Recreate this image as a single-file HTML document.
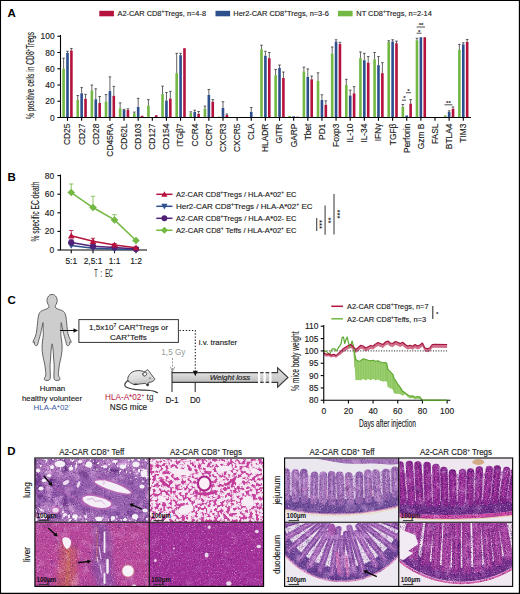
<!DOCTYPE html>
<html><head><meta charset="utf-8"><title>Figure</title>
<style>
html,body{margin:0;padding:0;background:#fff;}
svg{display:block;font-family:"Liberation Sans", sans-serif;}
text[fill="#1a1a1a"]{stroke:#1a1a1a;stroke-width:0.14px;}
</style></head><body>
<svg width="520" height="594" viewBox="0 0 520 594">
<rect x="0" y="0" width="520" height="594" fill="#fff"/>
<g id="panelA">
<text x="7.5" y="17.3" font-size="11.5" font-weight="bold" fill="#000">A</text>
<rect x="99.3" y="10.8" width="14.6" height="5.5" fill="#b5123e"/>
<text x="117.5" y="16.2" font-size="7.7" fill="#1a1a1a" textLength="88.5" lengthAdjust="spacingAndGlyphs">A2-CAR CD8<tspan font-size="5" dy="-3">+</tspan><tspan dy="3">Tregs, n=4-8</tspan></text>
<rect x="215.5" y="10.8" width="14.6" height="5.5" fill="#2d4f8e"/>
<text x="233.3" y="16.2" font-size="7.7" fill="#1a1a1a" textLength="95.5" lengthAdjust="spacingAndGlyphs">Her2-CAR CD8<tspan font-size="5" dy="-3">+</tspan><tspan dy="3">Tregs, n=3-6</tspan></text>
<rect x="338" y="10.8" width="14.6" height="5.5" fill="#72b843"/>
<text x="356.3" y="16.2" font-size="7.7" fill="#1a1a1a" textLength="75.5" lengthAdjust="spacingAndGlyphs">NT CD8<tspan font-size="5" dy="-3">+</tspan><tspan dy="3">Tregs, n=2-14</tspan></text>
<rect x="62.30" y="68.75" width="2.6" height="48.75" fill="#72b843"/>
<path d="M63.60 68.75V58.19M62.30 58.19h2.6" stroke="#222" stroke-width="0.7" fill="none"/>
<rect x="66.20" y="52.91" width="2.6" height="64.59" fill="#2d4f8e"/>
<path d="M67.50 52.91V51.28M66.20 51.28h2.6" stroke="#222" stroke-width="0.7" fill="none"/>
<rect x="70.10" y="50.47" width="2.6" height="67.03" fill="#b5123e"/>
<path d="M71.40 50.47V48.44M70.10 48.44h2.6" stroke="#222" stroke-width="0.7" fill="none"/>
<path d="M67.50 117.5v3.3" stroke="#000" stroke-width="1.1"/>
<text transform="translate(70.40 123.6) rotate(-90)" text-anchor="end" font-size="8.4" fill="#1a1a1a">CD25</text>
<rect x="76.44" y="100.03" width="2.6" height="17.47" fill="#72b843"/>
<path d="M77.73 100.03V95.56M76.44 95.56h2.6" stroke="#222" stroke-width="0.7" fill="none"/>
<rect x="80.34" y="93.29" width="2.6" height="24.21" fill="#2d4f8e"/>
<path d="M81.64 93.29V87.60M80.34 87.60h2.6" stroke="#222" stroke-width="0.7" fill="none"/>
<rect x="84.24" y="98.81" width="2.6" height="18.69" fill="#b5123e"/>
<path d="M85.54 98.81V94.34M84.24 94.34h2.6" stroke="#222" stroke-width="0.7" fill="none"/>
<path d="M81.64 117.5v3.3" stroke="#000" stroke-width="1.1"/>
<text transform="translate(84.54 123.6) rotate(-90)" text-anchor="end" font-size="8.4" fill="#1a1a1a">CD27</text>
<rect x="90.57" y="90.36" width="2.6" height="27.14" fill="#72b843"/>
<path d="M91.87 90.36V85.00M90.57 85.00h2.6" stroke="#222" stroke-width="0.7" fill="none"/>
<rect x="94.47" y="99.30" width="2.6" height="18.20" fill="#2d4f8e"/>
<path d="M95.77 99.30V88.82M94.47 88.82h2.6" stroke="#222" stroke-width="0.7" fill="none"/>
<rect x="98.37" y="103.04" width="2.6" height="14.46" fill="#b5123e"/>
<path d="M99.67 103.04V96.54M98.37 96.54h2.6" stroke="#222" stroke-width="0.7" fill="none"/>
<path d="M95.77 117.5v3.3" stroke="#000" stroke-width="1.1"/>
<text transform="translate(98.67 123.6) rotate(-90)" text-anchor="end" font-size="8.4" fill="#1a1a1a">CD28</text>
<rect x="104.70" y="101.58" width="2.6" height="15.93" fill="#72b843"/>
<path d="M106.00 101.58V94.59M104.70 94.59h2.6" stroke="#222" stroke-width="0.7" fill="none"/>
<rect x="108.61" y="91.09" width="2.6" height="26.41" fill="#2d4f8e"/>
<path d="M109.91 91.09V76.88M108.61 76.88h2.6" stroke="#222" stroke-width="0.7" fill="none"/>
<rect x="112.51" y="95.81" width="2.6" height="21.69" fill="#b5123e"/>
<path d="M113.81 95.81V86.38M112.51 86.38h2.6" stroke="#222" stroke-width="0.7" fill="none"/>
<path d="M109.91 117.5v3.3" stroke="#000" stroke-width="1.1"/>
<text transform="translate(112.81 123.6) rotate(-90)" text-anchor="end" font-size="8.4" fill="#1a1a1a">CD45RA</text>
<rect x="118.84" y="108.32" width="2.6" height="9.18" fill="#72b843"/>
<path d="M120.14 108.32V102.88M118.84 102.88h2.6" stroke="#222" stroke-width="0.7" fill="none"/>
<rect x="122.74" y="110.03" width="2.6" height="7.47" fill="#2d4f8e"/>
<path d="M124.04 110.03V109.38M122.74 109.38h2.6" stroke="#222" stroke-width="0.7" fill="none"/>
<rect x="126.64" y="110.03" width="2.6" height="7.47" fill="#b5123e"/>
<path d="M127.94 110.03V108.81M126.64 108.81h2.6" stroke="#222" stroke-width="0.7" fill="none"/>
<path d="M124.04 117.5v3.3" stroke="#000" stroke-width="1.1"/>
<text transform="translate(126.94 123.6) rotate(-90)" text-anchor="end" font-size="8.4" fill="#1a1a1a">CD62L</text>
<rect x="132.97" y="113.28" width="2.6" height="4.23" fill="#72b843"/>
<path d="M134.28 113.28V112.06M132.97 112.06h2.6" stroke="#222" stroke-width="0.7" fill="none"/>
<rect x="136.88" y="107.02" width="2.6" height="10.48" fill="#2d4f8e"/>
<path d="M138.18 107.02V98.33M136.88 98.33h2.6" stroke="#222" stroke-width="0.7" fill="none"/>
<rect x="140.78" y="115.79" width="2.6" height="1.71" fill="#b5123e"/>
<path d="M138.18 117.5v3.3" stroke="#000" stroke-width="1.1"/>
<text transform="translate(141.08 123.6) rotate(-90)" text-anchor="end" font-size="8.4" fill="#1a1a1a">CD103</text>
<rect x="147.11" y="105.56" width="2.6" height="11.94" fill="#72b843"/>
<path d="M148.41 105.56V99.62M147.11 99.62h2.6" stroke="#222" stroke-width="0.7" fill="none"/>
<rect x="154.91" y="115.22" width="2.6" height="2.27" fill="#b5123e"/>
<path d="M152.31 117.5v3.3" stroke="#000" stroke-width="1.1"/>
<text transform="translate(155.21 123.6) rotate(-90)" text-anchor="end" font-size="8.4" fill="#1a1a1a">CD127</text>
<rect x="161.24" y="94.10" width="2.6" height="23.40" fill="#72b843"/>
<path d="M162.54 94.10V86.14M161.24 86.14h2.6" stroke="#222" stroke-width="0.7" fill="none"/>
<rect x="165.14" y="100.52" width="2.6" height="16.98" fill="#2d4f8e"/>
<path d="M166.44 100.52V92.56M165.14 92.56h2.6" stroke="#222" stroke-width="0.7" fill="none"/>
<rect x="169.04" y="98.57" width="2.6" height="18.93" fill="#b5123e"/>
<path d="M170.34 98.57V91.34M169.04 91.34h2.6" stroke="#222" stroke-width="0.7" fill="none"/>
<path d="M166.44 117.5v3.3" stroke="#000" stroke-width="1.1"/>
<text transform="translate(169.34 123.6) rotate(-90)" text-anchor="end" font-size="8.4" fill="#1a1a1a">CD154</text>
<rect x="175.38" y="73.14" width="2.6" height="44.36" fill="#72b843"/>
<path d="M176.68 73.14V53.31M175.38 53.31h2.6" stroke="#222" stroke-width="0.7" fill="none"/>
<rect x="179.28" y="55.18" width="2.6" height="62.32" fill="#2d4f8e"/>
<path d="M180.58 55.18V53.31M179.28 53.31h2.6" stroke="#222" stroke-width="0.7" fill="none"/>
<rect x="183.18" y="48.19" width="2.6" height="69.31" fill="#b5123e"/>
<path d="M180.58 117.5v3.3" stroke="#000" stroke-width="1.1"/>
<text transform="translate(183.48 123.6) rotate(-90)" text-anchor="end" font-size="8.4" fill="#1a1a1a">ITGβ7</text>
<rect x="189.51" y="113.03" width="2.6" height="4.47" fill="#72b843"/>
<path d="M190.81 113.03V111.81M189.51 111.81h2.6" stroke="#222" stroke-width="0.7" fill="none"/>
<rect x="193.41" y="111.97" width="2.6" height="5.52" fill="#2d4f8e"/>
<path d="M194.72 111.97V110.19M193.41 110.19h2.6" stroke="#222" stroke-width="0.7" fill="none"/>
<rect x="197.31" y="113.76" width="2.6" height="3.74" fill="#b5123e"/>
<path d="M198.62 113.76V111.49M197.31 111.49h2.6" stroke="#222" stroke-width="0.7" fill="none"/>
<path d="M194.72 117.5v3.3" stroke="#000" stroke-width="1.1"/>
<text transform="translate(197.62 123.6) rotate(-90)" text-anchor="end" font-size="8.4" fill="#1a1a1a">CCR4</text>
<rect x="203.65" y="108.56" width="2.6" height="8.94" fill="#72b843"/>
<path d="M204.95 108.56V106.12M203.65 106.12h2.6" stroke="#222" stroke-width="0.7" fill="none"/>
<rect x="207.55" y="94.99" width="2.6" height="22.51" fill="#2d4f8e"/>
<path d="M208.85 94.99V89.47M207.55 89.47h2.6" stroke="#222" stroke-width="0.7" fill="none"/>
<rect x="211.45" y="101.74" width="2.6" height="15.76" fill="#b5123e"/>
<path d="M212.75 101.74V99.62M211.45 99.62h2.6" stroke="#222" stroke-width="0.7" fill="none"/>
<path d="M208.85 117.5v3.3" stroke="#000" stroke-width="1.1"/>
<text transform="translate(211.75 123.6) rotate(-90)" text-anchor="end" font-size="8.4" fill="#1a1a1a">CCR7</text>
<rect x="217.78" y="116.69" width="2.6" height="0.81" fill="#72b843"/>
<rect x="221.68" y="107.99" width="2.6" height="9.51" fill="#2d4f8e"/>
<path d="M222.98 107.99V101.74M221.68 101.74h2.6" stroke="#222" stroke-width="0.7" fill="none"/>
<rect x="225.58" y="115.06" width="2.6" height="2.44" fill="#b5123e"/>
<path d="M226.88 115.06V114.01M225.58 114.01h2.6" stroke="#222" stroke-width="0.7" fill="none"/>
<path d="M222.98 117.5v3.3" stroke="#000" stroke-width="1.1"/>
<text transform="translate(225.88 123.6) rotate(-90)" text-anchor="end" font-size="8.4" fill="#1a1a1a">CXCR3</text>
<rect x="231.92" y="117.26" width="2.6" height="0.24" fill="#72b843"/>
<rect x="235.82" y="117.01" width="2.6" height="0.49" fill="#2d4f8e"/>
<rect x="239.72" y="117.01" width="2.6" height="0.49" fill="#b5123e"/>
<path d="M237.12 117.5v3.3" stroke="#000" stroke-width="1.1"/>
<text transform="translate(240.02 123.6) rotate(-90)" text-anchor="end" font-size="8.4" fill="#1a1a1a">CXCR5</text>
<rect x="246.05" y="117.26" width="2.6" height="0.24" fill="#72b843"/>
<rect x="249.95" y="111.97" width="2.6" height="5.52" fill="#2d4f8e"/>
<path d="M251.25 111.97V107.51M249.95 107.51h2.6" stroke="#222" stroke-width="0.7" fill="none"/>
<rect x="253.85" y="116.93" width="2.6" height="0.57" fill="#b5123e"/>
<path d="M251.25 117.5v3.3" stroke="#000" stroke-width="1.1"/>
<text transform="translate(254.16 123.6) rotate(-90)" text-anchor="end" font-size="8.4" fill="#1a1a1a">CLA</text>
<rect x="260.19" y="49.25" width="2.6" height="68.25" fill="#72b843"/>
<path d="M261.49 49.25V45.19M260.19 45.19h2.6" stroke="#222" stroke-width="0.7" fill="none"/>
<rect x="264.09" y="55.75" width="2.6" height="61.75" fill="#2d4f8e"/>
<path d="M265.39 55.75V51.28M264.09 51.28h2.6" stroke="#222" stroke-width="0.7" fill="none"/>
<rect x="267.99" y="58.19" width="2.6" height="59.31" fill="#b5123e"/>
<path d="M269.29 58.19V52.50M267.99 52.50h2.6" stroke="#222" stroke-width="0.7" fill="none"/>
<path d="M265.39 117.5v3.3" stroke="#000" stroke-width="1.1"/>
<text transform="translate(268.29 123.6) rotate(-90)" text-anchor="end" font-size="8.4" fill="#1a1a1a">HLADR</text>
<rect x="274.32" y="75.25" width="2.6" height="42.25" fill="#72b843"/>
<path d="M275.62 75.25V69.56M274.32 69.56h2.6" stroke="#222" stroke-width="0.7" fill="none"/>
<rect x="278.22" y="67.94" width="2.6" height="49.56" fill="#2d4f8e"/>
<path d="M279.52 67.94V65.01M278.22 65.01h2.6" stroke="#222" stroke-width="0.7" fill="none"/>
<rect x="282.12" y="78.01" width="2.6" height="39.49" fill="#b5123e"/>
<path d="M283.42 78.01V72.00M282.12 72.00h2.6" stroke="#222" stroke-width="0.7" fill="none"/>
<path d="M279.52 117.5v3.3" stroke="#000" stroke-width="1.1"/>
<text transform="translate(282.42 123.6) rotate(-90)" text-anchor="end" font-size="8.4" fill="#1a1a1a">GITR</text>
<rect x="288.46" y="115.88" width="2.6" height="1.62" fill="#72b843"/>
<rect x="292.36" y="116.28" width="2.6" height="1.22" fill="#2d4f8e"/>
<rect x="296.26" y="116.69" width="2.6" height="0.81" fill="#b5123e"/>
<path d="M293.66 117.5v3.3" stroke="#000" stroke-width="1.1"/>
<text transform="translate(296.56 123.6) rotate(-90)" text-anchor="end" font-size="8.4" fill="#1a1a1a">GARP</text>
<rect x="302.59" y="71.43" width="2.6" height="46.07" fill="#72b843"/>
<path d="M303.89 71.43V67.12M302.59 67.12h2.6" stroke="#222" stroke-width="0.7" fill="none"/>
<rect x="306.49" y="76.88" width="2.6" height="40.62" fill="#2d4f8e"/>
<path d="M307.79 76.88V68.91M306.49 68.91h2.6" stroke="#222" stroke-width="0.7" fill="none"/>
<rect x="310.39" y="79.31" width="2.6" height="38.19" fill="#b5123e"/>
<path d="M311.69 79.31V76.06M310.39 76.06h2.6" stroke="#222" stroke-width="0.7" fill="none"/>
<path d="M307.79 117.5v3.3" stroke="#000" stroke-width="1.1"/>
<text transform="translate(310.69 123.6) rotate(-90)" text-anchor="end" font-size="8.4" fill="#1a1a1a">Tbet</text>
<rect x="316.73" y="80.94" width="2.6" height="36.56" fill="#72b843"/>
<path d="M318.03 80.94V72.81M316.73 72.81h2.6" stroke="#222" stroke-width="0.7" fill="none"/>
<rect x="320.63" y="100.03" width="2.6" height="17.47" fill="#2d4f8e"/>
<path d="M321.93 100.03V94.75M320.63 94.75h2.6" stroke="#222" stroke-width="0.7" fill="none"/>
<rect x="324.53" y="104.83" width="2.6" height="12.67" fill="#b5123e"/>
<path d="M325.83 104.83V100.84M324.53 100.84h2.6" stroke="#222" stroke-width="0.7" fill="none"/>
<path d="M321.93 117.5v3.3" stroke="#000" stroke-width="1.1"/>
<text transform="translate(324.83 123.6) rotate(-90)" text-anchor="end" font-size="8.4" fill="#1a1a1a">PD1</text>
<rect x="330.87" y="53.48" width="2.6" height="64.02" fill="#72b843"/>
<path d="M332.17 53.48V46.98M330.87 46.98h2.6" stroke="#222" stroke-width="0.7" fill="none"/>
<rect x="334.76" y="41.53" width="2.6" height="75.97" fill="#2d4f8e"/>
<path d="M336.06 41.53V39.74M334.76 39.74h2.6" stroke="#222" stroke-width="0.7" fill="none"/>
<rect x="338.66" y="43.97" width="2.6" height="73.53" fill="#b5123e"/>
<path d="M339.96 43.97V42.26M338.66 42.26h2.6" stroke="#222" stroke-width="0.7" fill="none"/>
<path d="M336.06 117.5v3.3" stroke="#000" stroke-width="1.1"/>
<text transform="translate(338.96 123.6) rotate(-90)" text-anchor="end" font-size="8.4" fill="#1a1a1a">Foxp3</text>
<rect x="345.00" y="85.00" width="2.6" height="32.50" fill="#72b843"/>
<path d="M346.30 85.00V79.31M345.00 79.31h2.6" stroke="#222" stroke-width="0.7" fill="none"/>
<rect x="348.90" y="95.56" width="2.6" height="21.94" fill="#2d4f8e"/>
<path d="M350.20 95.56V90.12M348.90 90.12h2.6" stroke="#222" stroke-width="0.7" fill="none"/>
<rect x="352.80" y="93.37" width="2.6" height="24.13" fill="#b5123e"/>
<path d="M354.10 93.37V86.62M352.80 86.62h2.6" stroke="#222" stroke-width="0.7" fill="none"/>
<path d="M350.20 117.5v3.3" stroke="#000" stroke-width="1.1"/>
<text transform="translate(353.10 123.6) rotate(-90)" text-anchor="end" font-size="8.4" fill="#1a1a1a">IL-10</text>
<rect x="359.13" y="58.19" width="2.6" height="59.31" fill="#72b843"/>
<path d="M360.44 58.19V51.93M359.13 51.93h2.6" stroke="#222" stroke-width="0.7" fill="none"/>
<rect x="363.03" y="60.22" width="2.6" height="57.28" fill="#2d4f8e"/>
<path d="M364.33 60.22V53.31M363.03 53.31h2.6" stroke="#222" stroke-width="0.7" fill="none"/>
<rect x="366.93" y="62.66" width="2.6" height="54.84" fill="#b5123e"/>
<path d="M368.23 62.66V56.56M366.93 56.56h2.6" stroke="#222" stroke-width="0.7" fill="none"/>
<path d="M364.33 117.5v3.3" stroke="#000" stroke-width="1.1"/>
<text transform="translate(367.23 123.6) rotate(-90)" text-anchor="end" font-size="8.4" fill="#1a1a1a">IL-34</text>
<rect x="373.27" y="59.41" width="2.6" height="58.09" fill="#72b843"/>
<path d="M374.57 59.41V52.50M373.27 52.50h2.6" stroke="#222" stroke-width="0.7" fill="none"/>
<rect x="377.17" y="65.17" width="2.6" height="52.33" fill="#2d4f8e"/>
<path d="M378.47 65.17V56.56M377.17 56.56h2.6" stroke="#222" stroke-width="0.7" fill="none"/>
<rect x="381.07" y="73.14" width="2.6" height="44.36" fill="#b5123e"/>
<path d="M382.37 73.14V62.66M381.07 62.66h2.6" stroke="#222" stroke-width="0.7" fill="none"/>
<path d="M378.47 117.5v3.3" stroke="#000" stroke-width="1.1"/>
<text transform="translate(381.37 123.6) rotate(-90)" text-anchor="end" font-size="8.4" fill="#1a1a1a">IFNγ</text>
<rect x="387.41" y="41.94" width="2.6" height="75.56" fill="#72b843"/>
<path d="M388.71 41.94V40.72M387.41 40.72h2.6" stroke="#222" stroke-width="0.7" fill="none"/>
<rect x="391.31" y="41.53" width="2.6" height="75.97" fill="#2d4f8e"/>
<path d="M392.61 41.53V39.74M391.31 39.74h2.6" stroke="#222" stroke-width="0.7" fill="none"/>
<rect x="395.20" y="43.24" width="2.6" height="74.26" fill="#b5123e"/>
<path d="M396.50 43.24V41.12M395.20 41.12h2.6" stroke="#222" stroke-width="0.7" fill="none"/>
<path d="M392.61 117.5v3.3" stroke="#000" stroke-width="1.1"/>
<text transform="translate(395.50 123.6) rotate(-90)" text-anchor="end" font-size="8.4" fill="#1a1a1a">TGFβ</text>
<rect x="401.54" y="106.94" width="2.6" height="10.56" fill="#72b843"/>
<path d="M402.84 106.94V104.50M401.54 104.50h2.6" stroke="#222" stroke-width="0.7" fill="none"/>
<rect x="405.44" y="115.47" width="2.6" height="2.03" fill="#2d4f8e"/>
<rect x="409.34" y="103.69" width="2.6" height="13.81" fill="#b5123e"/>
<path d="M410.64 103.69V99.62M409.34 99.62h2.6" stroke="#222" stroke-width="0.7" fill="none"/>
<path d="M406.74 117.5v3.3" stroke="#000" stroke-width="1.1"/>
<text transform="translate(409.64 123.6) rotate(-90)" text-anchor="end" font-size="8.4" fill="#1a1a1a">Perforin</text>
<rect x="415.68" y="40.31" width="2.6" height="77.19" fill="#72b843"/>
<path d="M416.98 40.31V38.28M415.68 38.28h2.6" stroke="#222" stroke-width="0.7" fill="none"/>
<rect x="419.57" y="37.23" width="2.6" height="80.27" fill="#2d4f8e"/>
<rect x="423.47" y="37.23" width="2.6" height="80.27" fill="#b5123e"/>
<path d="M420.88 117.5v3.3" stroke="#000" stroke-width="1.1"/>
<text transform="translate(423.77 123.6) rotate(-90)" text-anchor="end" font-size="8.4" fill="#1a1a1a">Gzm B</text>
<rect x="429.81" y="117.09" width="2.6" height="0.41" fill="#72b843"/>
<rect x="433.71" y="117.09" width="2.6" height="0.41" fill="#2d4f8e"/>
<rect x="437.61" y="117.09" width="2.6" height="0.41" fill="#b5123e"/>
<path d="M435.01 117.5v3.3" stroke="#000" stroke-width="1.1"/>
<text transform="translate(437.91 123.6) rotate(-90)" text-anchor="end" font-size="8.4" fill="#1a1a1a">FASL</text>
<rect x="443.94" y="115.47" width="2.6" height="2.03" fill="#72b843"/>
<rect x="447.84" y="112.06" width="2.6" height="5.44" fill="#2d4f8e"/>
<path d="M449.14 112.06V110.84M447.84 110.84h2.6" stroke="#222" stroke-width="0.7" fill="none"/>
<rect x="451.74" y="108.81" width="2.6" height="8.69" fill="#b5123e"/>
<path d="M453.04 108.81V106.94M451.74 106.94h2.6" stroke="#222" stroke-width="0.7" fill="none"/>
<path d="M449.14 117.5v3.3" stroke="#000" stroke-width="1.1"/>
<text transform="translate(452.04 123.6) rotate(-90)" text-anchor="end" font-size="8.4" fill="#1a1a1a">BTLA4</text>
<rect x="458.08" y="49.74" width="2.6" height="67.76" fill="#72b843"/>
<path d="M459.38 49.74V44.38M458.08 44.38h2.6" stroke="#222" stroke-width="0.7" fill="none"/>
<rect x="461.98" y="44.38" width="2.6" height="73.12" fill="#2d4f8e"/>
<path d="M463.28 44.38V42.75M461.98 42.75h2.6" stroke="#222" stroke-width="0.7" fill="none"/>
<rect x="465.88" y="41.94" width="2.6" height="75.56" fill="#b5123e"/>
<path d="M467.18 41.94V39.50M465.88 39.50h2.6" stroke="#222" stroke-width="0.7" fill="none"/>
<path d="M463.28 117.5v3.3" stroke="#000" stroke-width="1.1"/>
<text transform="translate(466.18 123.6) rotate(-90)" text-anchor="end" font-size="8.4" fill="#1a1a1a">TIM3</text>
<path d="M60.5 35V117.5H471" stroke="#000" stroke-width="1.1" fill="none"/>
<path d="M57.4 117.50h3.1" stroke="#000" stroke-width="1.1"/>
<text x="54.6" y="120.50" text-anchor="end" font-size="8.4" fill="#1a1a1a">0</text>
<path d="M57.4 101.25h3.1" stroke="#000" stroke-width="1.1"/>
<text x="54.6" y="104.25" text-anchor="end" font-size="8.4" fill="#1a1a1a">20</text>
<path d="M57.4 85.00h3.1" stroke="#000" stroke-width="1.1"/>
<text x="54.6" y="88.00" text-anchor="end" font-size="8.4" fill="#1a1a1a">40</text>
<path d="M57.4 68.75h3.1" stroke="#000" stroke-width="1.1"/>
<text x="54.6" y="71.75" text-anchor="end" font-size="8.4" fill="#1a1a1a">60</text>
<path d="M57.4 52.50h3.1" stroke="#000" stroke-width="1.1"/>
<text x="54.6" y="55.50" text-anchor="end" font-size="8.4" fill="#1a1a1a">80</text>
<path d="M57.4 36.25h3.1" stroke="#000" stroke-width="1.1"/>
<text x="54.6" y="39.25" text-anchor="end" font-size="8.4" fill="#1a1a1a">100</text>
<text transform="translate(33.6 75.5) rotate(-90)" text-anchor="middle" font-size="10.4" fill="#1a1a1a" stroke="#1a1a1a" stroke-width="0.2" textLength="87" lengthAdjust="spacingAndGlyphs">% positive cells in CD8<tspan font-size="7" dy="-2.5">+</tspan><tspan dy="2.5">Tregs</tspan></text>
<path d="M402 100.2H406" stroke="#222" stroke-width="0.8"/>
<text x="404.4" y="99.89999999999999" text-anchor="middle" font-size="6.2" font-weight="bold" fill="#222">*</text>
<path d="M406 92.7H411" stroke="#222" stroke-width="0.8"/>
<text x="408.4" y="92.8" text-anchor="middle" font-size="6.2" font-weight="bold" fill="#222">*</text>
<path d="M416.7 33.2H421.5" stroke="#222" stroke-width="0.8"/>
<text x="419.2" y="33.6" text-anchor="middle" font-size="6.2" font-weight="bold" fill="#222">*</text>
<path d="M416.7 27H425" stroke="#222" stroke-width="0.8"/>
<text x="421.1" y="26.6" text-anchor="middle" font-size="6.2" font-weight="bold" fill="#222">**</text>
<path d="M444.5 104.8H452.4" stroke="#222" stroke-width="0.8"/>
<text x="448.4" y="104.6" text-anchor="middle" font-size="6.2" font-weight="bold" fill="#222">**</text>
</g>
<g id="panelB">
<text x="7.5" y="181.3" font-size="11.5" font-weight="bold" fill="#000">B</text>
<path d="M60.5 174.5V250.0H147" stroke="#000" stroke-width="1.1" fill="none"/>
<path d="M57.4 250.00h3.1" stroke="#000" stroke-width="1.1"/>
<text x="54.2" y="253.00" text-anchor="end" font-size="8.4" fill="#1a1a1a">0</text>
<path d="M57.4 231.40h3.1" stroke="#000" stroke-width="1.1"/>
<text x="54.2" y="234.40" text-anchor="end" font-size="8.4" fill="#1a1a1a">20</text>
<path d="M57.4 212.80h3.1" stroke="#000" stroke-width="1.1"/>
<text x="54.2" y="215.80" text-anchor="end" font-size="8.4" fill="#1a1a1a">40</text>
<path d="M57.4 194.20h3.1" stroke="#000" stroke-width="1.1"/>
<text x="54.2" y="197.20" text-anchor="end" font-size="8.4" fill="#1a1a1a">60</text>
<path d="M57.4 175.60h3.1" stroke="#000" stroke-width="1.1"/>
<text x="54.2" y="178.60" text-anchor="end" font-size="8.4" fill="#1a1a1a">80</text>
<path d="M71.25 250.0v3.2" stroke="#000" stroke-width="1.1"/>
<text x="71.25" y="264" text-anchor="middle" font-size="8.4" fill="#1a1a1a">5:1</text>
<path d="M93 250.0v3.2" stroke="#000" stroke-width="1.1"/>
<text x="93" y="264" text-anchor="middle" font-size="8.4" fill="#1a1a1a">2,5:1</text>
<path d="M114.5 250.0v3.2" stroke="#000" stroke-width="1.1"/>
<text x="114.5" y="264" text-anchor="middle" font-size="8.4" fill="#1a1a1a">1:1</text>
<path d="M136 250.0v3.2" stroke="#000" stroke-width="1.1"/>
<text x="136" y="264" text-anchor="middle" font-size="8.4" fill="#1a1a1a">1:2</text>
<text x="103.5" y="276.6" text-anchor="middle" font-size="10.6" fill="#1a1a1a" stroke="#1a1a1a" stroke-width="0.2" textLength="18.5" lengthAdjust="spacingAndGlyphs">T  :  EC</text>
<text transform="translate(38.6 211.6) rotate(-90)" text-anchor="middle" font-size="10.6" fill="#1a1a1a" stroke="#1a1a1a" stroke-width="0.2" textLength="60" lengthAdjust="spacingAndGlyphs">% specific EC death</text>
<path d="M71.25 245.54V242.56M69.05 242.56h4.4" stroke="#2d4f8e" stroke-width="0.8" fill="none"/>
<polyline points="71.25,245.54 93,248.14 114.5,249.07 136,249.53" fill="none" stroke="#2d4f8e" stroke-width="1.5"/>
<path d="M67.95 242.90L74.55 242.90L71.25 248.84Z" fill="#2d4f8e"/>
<path d="M89.70 245.50L96.30 245.50L93.00 251.44Z" fill="#2d4f8e"/>
<path d="M111.20 246.43L117.80 246.43L114.50 252.37Z" fill="#2d4f8e"/>
<path d="M132.70 246.90L139.30 246.90L136.00 252.84Z" fill="#2d4f8e"/>
<path d="M71.25 242.56V239.77M69.05 239.77h4.4" stroke="#4f2277" stroke-width="0.8" fill="none"/>
<polyline points="71.25,242.56 93,246.28 114.5,247.49 136,249.07" fill="none" stroke="#4f2277" stroke-width="1.5"/>
<circle cx="71.25" cy="242.56" r="3.13" fill="#4f2277"/>
<circle cx="93.00" cy="246.28" r="3.13" fill="#4f2277"/>
<circle cx="114.50" cy="247.49" r="3.13" fill="#4f2277"/>
<circle cx="136.00" cy="249.07" r="3.13" fill="#4f2277"/>
<path d="M71.25 235.77V230.47M69.05 230.47h4.4" stroke="#b5123e" stroke-width="0.8" fill="none"/>
<path d="M93 241.26V238.28M90.8 238.28h4.4" stroke="#b5123e" stroke-width="0.8" fill="none"/>
<path d="M114.5 244.98V243.49M112.3 243.49h4.4" stroke="#b5123e" stroke-width="0.8" fill="none"/>
<polyline points="71.25,235.77 93,241.26 114.5,244.98 136,247.68" fill="none" stroke="#b5123e" stroke-width="1.5"/>
<path d="M67.95 238.41L74.55 238.41L71.25 232.47Z" fill="#b5123e"/>
<path d="M89.70 243.90L96.30 243.90L93.00 237.96Z" fill="#b5123e"/>
<path d="M111.20 247.62L117.80 247.62L114.50 241.68Z" fill="#b5123e"/>
<path d="M132.70 250.31L139.30 250.31L136.00 244.38Z" fill="#b5123e"/>
<path d="M71.25 192.53V183.97M69.05 183.97h4.4" stroke="#72b843" stroke-width="0.8" fill="none"/>
<path d="M93 207.50V196.25M90.8 196.25h4.4" stroke="#72b843" stroke-width="0.8" fill="none"/>
<path d="M114.5 219.96V214.66M112.3 214.66h4.4" stroke="#72b843" stroke-width="0.8" fill="none"/>
<polyline points="71.25,192.53 93,207.50 114.5,219.96 136,240.51" fill="none" stroke="#72b843" stroke-width="1.5"/>
<path d="M67.45 192.53L71.25 188.73L75.05 192.53L71.25 196.32Z" fill="#72b843"/>
<path d="M89.20 207.50L93.00 203.70L96.80 207.50L93.00 211.29Z" fill="#72b843"/>
<path d="M110.70 219.96L114.50 216.17L118.30 219.96L114.50 223.76Z" fill="#72b843"/>
<path d="M132.21 240.51L136.00 236.72L139.79 240.51L136.00 244.31Z" fill="#72b843"/>
<path d="M156.3 194.3H172.5" stroke="#b5123e" stroke-width="1.5"/>
<path d="M161.30 196.78L167.50 196.78L164.40 191.20Z" fill="#b5123e"/>
<text x="176" y="197.20000000000002" font-size="7.8" fill="#1a1a1a" textLength="120.5" lengthAdjust="spacingAndGlyphs">A2-CAR CD8<tspan font-size="5" dy="-3">+</tspan><tspan dy="3">Tregs / HLA-A*02</tspan><tspan font-size="5" dy="-3">+</tspan><tspan dy="3"> EC</tspan></text>
<path d="M156.3 206.3H172.5" stroke="#2d4f8e" stroke-width="1.5"/>
<path d="M161.30 203.82L167.50 203.82L164.40 209.40Z" fill="#2d4f8e"/>
<text x="176" y="209.20000000000002" font-size="7.8" fill="#1a1a1a" textLength="136.5" lengthAdjust="spacingAndGlyphs">Her2-CAR CD8<tspan font-size="5" dy="-3">+</tspan><tspan dy="3">Tregs / HLA-A*02</tspan><tspan font-size="5" dy="-3">+</tspan><tspan dy="3"> EC</tspan></text>
<path d="M156.3 218.3H172.5" stroke="#4f2277" stroke-width="1.5"/>
<circle cx="164.40" cy="218.30" r="2.94" fill="#4f2277"/>
<text x="176" y="221.20000000000002" font-size="7.8" fill="#1a1a1a" textLength="120.5" lengthAdjust="spacingAndGlyphs">A2-CAR CD8<tspan font-size="5" dy="-3">+</tspan><tspan dy="3">Tregs / HLA-A*02- EC</tspan></text>
<path d="M156.3 230.3H172.5" stroke="#72b843" stroke-width="1.5"/>
<path d="M160.84 230.30L164.40 226.74L167.97 230.30L164.40 233.87Z" fill="#72b843"/>
<text x="176" y="233.20000000000002" font-size="7.8" fill="#1a1a1a" textLength="120.5" lengthAdjust="spacingAndGlyphs">A2-CAR CD8<tspan font-size="5" dy="-3">+</tspan><tspan dy="3"> Teffs / HLA-A*02</tspan><tspan font-size="5" dy="-3">+</tspan><tspan dy="3"> EC</tspan></text>
<path d="M316.7 218.1V231" stroke="#444" stroke-width="1.1"/>
<path d="M325.1 205.6V234.8" stroke="#444" stroke-width="1.1"/>
<path d="M334 193.9V234.6" stroke="#444" stroke-width="1.1"/>
<text transform="translate(317.4 224.5) rotate(90)" text-anchor="middle" font-size="7.2" font-weight="bold" fill="#333" letter-spacing="0.2">***</text>
<text transform="translate(325.7 220.4) rotate(90)" text-anchor="middle" font-size="7.2" font-weight="bold" fill="#333" letter-spacing="0.2">**</text>
<text transform="translate(334.5 214.2) rotate(90)" text-anchor="middle" font-size="7.2" font-weight="bold" fill="#333" letter-spacing="0.2">***</text>
</g>
<g id="panelC">
<text x="7.5" y="304.3" font-size="11.5" font-weight="bold" fill="#000">C</text>
<g fill="#cdcdcd" stroke="#555" stroke-width="0.9" stroke-linejoin="round">
<path d="M50.9 294.6Q52.1 294.3 53.3 294.6Q54.5 294.8 55.5 296.0Q56.6 297.2 57.0 298.8Q57.4 300.4 57.1 301.8Q56.7 303.1 56.3 304.0Q55.8 304.9 55.5 305.6Q55.1 306.3 55.3 307.2Q55.5 308.1 57.6 308.9Q59.8 309.7 61.6 310.4Q63.5 311.1 64.4 312.5Q65.4 314.0 65.8 316.0Q66.2 318.0 66.4 320.4Q66.7 322.8 67.0 326.4Q67.3 330.0 67.9 333.2Q68.6 336.4 69.5 338.1Q70.5 339.9 71.0 341.2Q71.6 342.4 71.0 342.6Q70.5 342.8 70.0 342.1Q69.5 341.5 69.7 342.8Q69.8 344.0 69.4 344.8Q68.9 345.5 68.1 345.7Q67.3 346.0 66.8 345.0Q66.3 344.0 66.0 342.4Q65.7 340.8 65.1 338.8Q64.4 336.7 63.6 333.5Q62.8 330.3 62.2 327.3Q61.5 324.4 61.3 322.9Q61.1 321.3 61.1 324.9Q61.1 328.4 60.9 331.6Q60.7 334.8 61.2 337.8Q61.7 340.8 62.0 344.2Q62.3 347.6 61.9 351.6Q61.5 355.6 60.7 358.8Q59.9 361.9 59.5 364.3Q59.1 366.7 58.7 369.9Q58.3 373.1 58.4 374.7Q58.5 376.3 59.4 377.6Q60.3 378.9 59.8 379.7Q59.3 380.5 57.2 380.5Q55.1 380.5 54.5 379.7Q53.9 378.9 53.9 376.0Q53.9 373.1 54.1 369.9Q54.3 366.7 54.1 364.3Q53.9 361.9 53.6 358.0Q53.4 354.0 53.1 350.0Q52.7 346.0 52.4 344.5Q52.1 343.1 51.8 344.5Q51.5 346.0 51.1 350.0Q50.8 354.0 50.6 358.0Q50.3 361.9 50.1 364.3Q49.9 366.7 50.1 369.9Q50.3 373.1 50.3 376.0Q50.3 378.9 49.7 379.7Q49.1 380.5 47.0 380.5Q44.9 380.5 44.4 379.7Q43.9 378.9 44.8 377.6Q45.7 376.3 45.8 374.7Q45.9 373.1 45.5 369.9Q45.1 366.7 44.7 364.3Q44.3 361.9 43.5 358.8Q42.7 355.6 42.3 351.6Q41.9 347.6 42.2 344.2Q42.5 340.8 43.0 337.8Q43.5 334.8 43.3 331.6Q43.1 328.4 43.1 324.9Q43.1 321.3 42.9 322.9Q42.7 324.4 42.0 327.3Q41.4 330.3 40.6 333.5Q39.8 336.7 39.2 338.8Q38.5 340.8 38.2 342.4Q37.9 344.0 37.4 345.0Q36.9 346.0 36.1 345.7Q35.3 345.5 34.8 344.8Q34.4 344.0 34.5 342.8Q34.7 341.5 34.2 342.1Q33.7 342.8 33.2 342.6Q32.6 342.4 33.2 341.2Q33.7 339.9 34.7 338.1Q35.6 336.4 36.3 333.2Q36.9 330.0 37.2 326.4Q37.6 322.8 37.8 320.4Q38.0 318.0 38.4 316.0Q38.8 314.0 39.8 312.5Q40.8 311.1 42.6 310.4Q44.4 309.7 46.6 308.9Q48.7 308.1 48.9 307.2Q49.1 306.3 48.7 305.6Q48.4 304.9 47.9 304.0Q47.5 303.1 47.1 301.8Q46.8 300.4 47.2 298.8Q47.6 297.2 48.7 296.0Q49.7 294.8 50.9 294.6Z"/>
</g>
<path d="M60 330.5H75" stroke="#111" stroke-width="1"/><path d="M73.5 328.3L78 330.5L73.5 332.7Z" fill="#111"/>
<rect x="78.9" y="319.6" width="99.5" height="22.8" fill="#fff" stroke="#333" stroke-width="1"/>
<text x="128.7" y="330.2" text-anchor="middle" font-size="8.1" fill="#1a1a1a">1,5x10<tspan font-size="5" dy="-3">7</tspan><tspan dy="3"> CAR</tspan><tspan font-size="5" dy="-3">+</tspan><tspan dy="3">Tregs or</tspan></text>
<text x="128.4" y="340.1" text-anchor="middle" font-size="8.1" fill="#1a1a1a">CAR<tspan font-size="5" dy="-3">+</tspan><tspan dy="3">Teffs</tspan></text>
<path d="M179.5 330.5H195.3V372.5" stroke="#222" stroke-width="1.1" fill="none" stroke-dasharray="1.4 1.7"/>
<text x="198.8" y="344.5" font-size="7.9" fill="#1a1a1a">i.v. transfer</text>
<text x="161.3" y="354.6" font-size="8.2" fill="#999">1,5 Gy</text>
<path d="M172.5 358V370" stroke="#888" stroke-width="0.8" stroke-dasharray="2 1.3" fill="none"/><path d="M170.2 366.8L172.5 371L174.8 366.8" stroke="#888" stroke-width="0.9" fill="none"/>
<defs><linearGradient id="tl" x1="0" y1="0" x2="0" y2="1"><stop offset="0" stop-color="#e2e2e2"/><stop offset="0.5" stop-color="#cfcfcf"/><stop offset="1" stop-color="#bdbdbd"/></linearGradient></defs>
<rect x="172" y="372.6" width="86" height="9.8" fill="url(#tl)"/><path d="M172 372.6H258M172 382.4H258" stroke="#3a3a3a" stroke-width="1.1"/>
<rect x="260.2" y="372.6" width="3.2" height="9.8" fill="url(#tl)"/><path d="M260.2 372.6h3.4M260.2 382.4h3.4" stroke="#3a3a3a" stroke-width="1.1"/>
<rect x="265.8" y="372.6" width="3.4" height="9.8" fill="url(#tl)"/><path d="M265.6 372.6h3.6M265.6 382.4h3.6" stroke="#3a3a3a" stroke-width="1.1"/>
<path d="M271.5 372.6H277.6V367.8L288 377.5L277.6 387.2V382.4H271.5" fill="url(#tl)" stroke="#3a3a3a" stroke-width="1.1" stroke-linejoin="miter"/>
<path d="M192.8 370.8L195.3 376.2L197.8 370.8Z" fill="#111"/>
<path d="M172 371V392M195.2 382.5V392" stroke="#222" stroke-width="1"/>
<text x="230" y="380.2" text-anchor="middle" font-size="7.9" font-style="italic" fill="#1a1a1a">Weight loss</text>
<text x="172" y="402.6" text-anchor="middle" font-size="8.2" fill="#1a1a1a">D-1</text>
<text x="195.2" y="402.6" text-anchor="middle" font-size="8.2" fill="#1a1a1a">D0</text>
<defs><linearGradient id="mg" x1="0" y1="0" x2="0.3" y2="1"><stop offset="0" stop-color="#f2f2f2"/><stop offset="0.6" stop-color="#dcdcdc"/><stop offset="1" stop-color="#bdbdbd"/></linearGradient></defs>
<g stroke="#3a3a3a" stroke-width="0.9" stroke-linejoin="round" stroke-linecap="round">
<path d="M128.2 380.3Q125.6 382.4 125.0 383.8Q124.4 385.2 125.4 386.3Q126.5 387.4 129.2 388.3Q131.8 389.2 135.7 389.7Q139.6 390.2 143.5 390.1Q147.4 390.0 150.5 390.5Q153.5 390.9 155.6 391.9L157.6 392.8" fill="none" stroke-width="1.2"/>
<path d="M128.7 381.5Q128.0 380.6 127.8 379.5Q127.7 378.4 128.1 377.1Q128.6 375.8 129.6 374.5Q130.5 373.1 132.3 372.1Q134.0 371.2 136.0 370.8Q137.9 370.5 140.1 370.7Q142.2 371.0 143.6 371.5Q145.0 372.0 145.7 371.2Q146.4 370.3 147.0 369.9Q147.6 369.4 148.0 370.0Q148.5 370.7 149.3 371.7Q150.2 372.8 151.4 374.5Q152.6 376.3 153.8 377.6Q155.0 378.9 154.7 379.6Q154.3 380.3 153.3 381.0Q152.2 381.7 151.2 382.1Q150.2 382.4 149.3 382.4Q148.5 382.4 148.6 383.4Q148.8 384.3 148.5 385.4Q148.1 386.4 147.4 385.8Q146.7 385.2 146.3 384.2Q145.9 383.3 144.3 383.5Q142.7 383.6 140.5 383.9Q138.3 384.1 137.0 384.4Q135.7 384.7 134.9 384.7Q134.0 384.7 132.8 384.0Q131.7 383.3 130.5 382.9Q129.4 382.4 128.7 381.5Z" fill="url(#mg)"/>
<path d="M142.8 373.9Q142.9 373.1 144.2 372.5Q145.5 371.9 146.3 372.5Q147.1 373.1 146.6 374.4Q146.0 375.7 145.0 376.0Q144.0 376.4 143.3 375.6Q142.6 374.8 142.8 373.9Z" fill="#f4f4f4"/>
<circle cx="150.0" cy="378.1" r="0.7" fill="#222" stroke="none"/>
<ellipse cx="135.7" cy="384.3" rx="2.2" ry="0.7" fill="#333" stroke="none"/>
<ellipse cx="147.4" cy="384.7" rx="1" ry="1.3" fill="#333" stroke="none"/>
</g>
<text x="105" y="399.6" font-size="8.2" fill="#b5123e">HLA-A*02<tspan font-size="5" dy="-3">+</tspan><tspan dy="3" fill="#222"> tg</tspan></text>
<text x="128.5" y="410" text-anchor="middle" font-size="8.2" fill="#1a1a1a">NSG mice</text>
<text x="52.5" y="391" text-anchor="middle" font-size="7.9" fill="#1a1a1a">Human</text>
<text x="52" y="400.8" text-anchor="middle" font-size="7.9" fill="#1a1a1a">healthy volunteer</text>
<text x="52" y="410.3" text-anchor="middle" font-size="7.9" fill="#3b5ba5">HLA-A*02<tspan font-size="5" dy="-3">-</tspan></text>
<path d="M331.3 306.3H343" stroke="#b5123e" stroke-width="1.5"/>
<text x="347" y="309" font-size="7.7" fill="#1a1a1a" textLength="81.5" lengthAdjust="spacingAndGlyphs">A2-CAR CD8<tspan font-size="5" dy="-3">+</tspan><tspan dy="3">Tregs, n=7</tspan></text>
<path d="M331.3 318.8H343" stroke="#72b843" stroke-width="1.5"/>
<text x="347" y="321.5" font-size="7.7" fill="#1a1a1a" textLength="79" lengthAdjust="spacingAndGlyphs">A2-CAR CD8<tspan font-size="5" dy="-3">+</tspan><tspan dy="3">Teffs, n=3</tspan></text>
<path d="M432.8 306V319" stroke="#333" stroke-width="1.1"/>
<text x="437.2" y="316.2" text-anchor="middle" font-size="6.2" font-weight="bold" fill="#222">*</text>
<polygon points="323.75,350.91 326.22,351.40 328.68,353.38 329.92,354.36 331.15,350.91 332.38,348.94 334.85,348.94 336.08,350.91 337.32,349.68 338.55,347.21 339.79,345.98 341.02,343.51 342.25,337.34 343.49,337.09 344.72,343.51 345.95,339.81 347.19,337.09 348.42,342.28 349.65,347.21 350.89,344.74 352.12,341.04 353.35,345.98 354.59,353.38 355.82,359.54 358.29,361.27 360.75,360.78 363.22,358.80 365.69,359.54 368.16,360.28 370.62,360.78 373.09,360.28 375.56,361.27 378.02,360.78 380.49,362.01 382.96,362.75 385.43,362.50 386.66,363.25 387.89,369.41 390.36,371.88 392.83,374.35 394.06,378.54 395.29,380.02 397.76,384.21 400.23,387.42 402.69,391.37 405.16,392.85 407.63,394.82 410.10,396.30 412.56,395.81 415.03,397.29 417.50,396.55 419.96,397.04 422.43,400.25 422.43,400.25 419.96,399.26 417.50,398.77 415.03,399.51 412.56,398.03 410.10,398.52 407.63,397.04 405.16,394.33 402.69,395.56 400.23,394.33 397.76,393.84 395.29,393.84 394.06,392.97 392.83,389.40 390.36,388.16 387.89,386.93 386.66,381.38 385.43,381.25 382.96,381.50 380.49,380.76 378.02,379.53 375.56,380.27 373.09,379.03 370.62,380.27 368.16,379.03 365.69,380.27 363.22,379.03 360.75,380.27 358.29,380.02 355.82,380.27 354.59,367.19 353.35,352.88 352.12,341.04 350.89,344.74 349.65,347.21 348.42,342.28 347.19,337.09 345.95,339.81 344.72,343.51 343.49,337.09 342.25,337.34 341.02,343.51 339.79,345.98 338.55,347.21 337.32,349.68 336.08,350.91 334.85,348.94 332.38,348.94 331.15,350.91 329.92,354.36 328.68,353.38 326.22,351.40 323.75,350.91" fill="#9ccf70"/>
<path d="M354.59 353.38V367.19" stroke="#7fbd50" stroke-width="0.5"/>
<path d="M355.82 359.54V380.27" stroke="#7fbd50" stroke-width="0.5"/>
<path d="M358.29 361.27V380.02" stroke="#7fbd50" stroke-width="0.5"/>
<path d="M360.75 360.78V380.27" stroke="#7fbd50" stroke-width="0.5"/>
<path d="M363.22 358.80V379.03" stroke="#7fbd50" stroke-width="0.5"/>
<path d="M365.69 359.54V380.27" stroke="#7fbd50" stroke-width="0.5"/>
<path d="M368.16 360.28V379.03" stroke="#7fbd50" stroke-width="0.5"/>
<path d="M370.62 360.78V380.27" stroke="#7fbd50" stroke-width="0.5"/>
<path d="M373.09 360.28V379.03" stroke="#7fbd50" stroke-width="0.5"/>
<path d="M375.56 361.27V380.27" stroke="#7fbd50" stroke-width="0.5"/>
<path d="M378.02 360.78V379.53" stroke="#7fbd50" stroke-width="0.5"/>
<path d="M380.49 362.01V380.76" stroke="#7fbd50" stroke-width="0.5"/>
<path d="M382.96 362.75V381.50" stroke="#7fbd50" stroke-width="0.5"/>
<path d="M385.43 362.50V381.25" stroke="#7fbd50" stroke-width="0.5"/>
<path d="M386.66 363.25V381.38" stroke="#7fbd50" stroke-width="0.5"/>
<path d="M387.89 369.41V386.93" stroke="#7fbd50" stroke-width="0.5"/>
<path d="M390.36 371.88V388.16" stroke="#7fbd50" stroke-width="0.5"/>
<path d="M392.83 374.35V389.40" stroke="#7fbd50" stroke-width="0.5"/>
<path d="M394.06 378.54V392.97" stroke="#7fbd50" stroke-width="0.5"/>
<path d="M395.29 380.02V393.84" stroke="#7fbd50" stroke-width="0.5"/>
<path d="M397.76 384.21V393.84" stroke="#7fbd50" stroke-width="0.5"/>
<path d="M400.23 387.42V394.33" stroke="#7fbd50" stroke-width="0.5"/>
<path d="M402.69 391.37V395.56" stroke="#7fbd50" stroke-width="0.5"/>
<path d="M405.16 392.85V394.33" stroke="#7fbd50" stroke-width="0.5"/>
<polygon points="323.75,352.64 326.22,354.36 328.68,353.87 331.15,355.10 333.62,354.36 336.08,355.35 338.55,353.38 341.02,350.91 343.49,348.44 345.95,346.96 348.42,345.48 350.89,344.50 353.35,346.96 355.82,349.43 358.29,347.46 360.75,345.24 363.22,345.98 365.69,347.95 368.16,346.72 370.62,345.48 373.09,345.98 375.56,344.00 378.02,342.52 380.49,343.51 382.96,344.50 385.43,342.03 387.89,341.04 390.36,343.02 392.83,343.51 395.29,341.54 397.76,342.28 400.23,343.51 402.69,342.28 405.16,344.50 407.63,345.98 410.10,345.24 412.56,346.22 415.03,344.50 417.50,345.98 419.96,344.99 422.43,343.02 424.90,347.95 427.36,348.69 429.83,347.95 432.30,344.50 434.76,344.25 447.10,344.50 447.10,347.95 434.76,347.70 432.30,347.95 429.83,351.40 427.36,352.14 424.90,351.40 422.43,346.47 419.96,348.44 417.50,349.43 415.03,347.95 412.56,349.68 410.10,348.69 407.63,349.43 405.16,347.95 402.69,345.73 400.23,346.96 397.76,345.73 395.29,344.99 392.83,346.96 390.36,346.47 387.89,344.50 385.43,345.48 382.96,347.95 380.49,346.96 378.02,345.98 375.56,347.46 373.09,349.43 370.62,348.94 368.16,350.17 365.69,351.40 363.22,349.43 360.75,348.69 358.29,350.91 355.82,352.88 353.35,350.42 350.89,347.95 348.42,348.94 345.95,350.42 343.49,351.90 341.02,354.36 338.55,355.84 336.08,357.82 333.62,356.83 331.15,357.57 328.68,356.34 326.22,356.83 323.75,355.10" fill="#cf6f8a"/>
<path d="M323.75 350.91H447.10" stroke="#222" stroke-width="0.9" stroke-dasharray="1.2 1.4"/>
<polyline points="323.75,350.91 326.22,351.40 328.68,353.38 329.92,354.36 331.15,350.91 332.38,348.94 334.85,348.94 336.08,350.91 337.32,349.68 338.55,347.21 339.79,345.98 341.02,343.51 342.25,337.34 343.49,337.09 344.72,343.51 345.95,339.81 347.19,337.09 348.42,342.28 349.65,347.21 350.89,344.74 352.12,341.04 353.35,345.98 354.59,353.38 355.82,359.54 358.29,361.27 360.75,360.78 363.22,358.80 365.69,359.54 368.16,360.28 370.62,360.78 373.09,360.28 375.56,361.27 378.02,360.78 380.49,362.01 382.96,362.75 385.43,362.50 386.66,363.25 387.89,369.41 390.36,371.88 392.83,374.35 394.06,378.54 395.29,380.02 397.76,384.21 400.23,387.42 402.69,391.37 405.16,392.85 407.63,394.82 410.10,396.30 412.56,395.81 415.03,397.29 417.50,396.55 419.96,397.04 422.43,400.25 447.10,400.25" fill="none" stroke="#5fa82f" stroke-width="1.2" stroke-linejoin="round"/>
<polyline points="323.75,352.64 326.22,354.36 328.68,353.87 331.15,355.10 333.62,354.36 336.08,355.35 338.55,353.38 341.02,350.91 343.49,348.44 345.95,346.96 348.42,345.48 350.89,344.50 353.35,346.96 355.82,349.43 358.29,347.46 360.75,345.24 363.22,345.98 365.69,347.95 368.16,346.72 370.62,345.48 373.09,345.98 375.56,344.00 378.02,342.52 380.49,343.51 382.96,344.50 385.43,342.03 387.89,341.04 390.36,343.02 392.83,343.51 395.29,341.54 397.76,342.28 400.23,343.51 402.69,342.28 405.16,344.50 407.63,345.98 410.10,345.24 412.56,346.22 415.03,344.50 417.50,345.98 419.96,344.99 422.43,343.02 424.90,347.95 427.36,348.69 429.83,347.95 432.30,344.50 434.76,344.25 447.10,344.50" fill="none" stroke="#a8163f" stroke-width="1.2" stroke-linejoin="round"/>
<path d="M323.75 325V400.25H450.5" stroke="#000" stroke-width="1.1" fill="none"/>
<path d="M320.7 400.25h3.1" stroke="#000" stroke-width="1.1"/>
<text x="318.4" y="403.25" text-anchor="end" font-size="8.4" fill="#1a1a1a">80</text>
<path d="M320.7 387.92h3.1" stroke="#000" stroke-width="1.1"/>
<text x="318.4" y="390.92" text-anchor="end" font-size="8.4" fill="#1a1a1a">85</text>
<path d="M320.7 375.58h3.1" stroke="#000" stroke-width="1.1"/>
<text x="318.4" y="378.58" text-anchor="end" font-size="8.4" fill="#1a1a1a">90</text>
<path d="M320.7 363.25h3.1" stroke="#000" stroke-width="1.1"/>
<text x="318.4" y="366.25" text-anchor="end" font-size="8.4" fill="#1a1a1a">95</text>
<path d="M320.7 350.91h3.1" stroke="#000" stroke-width="1.1"/>
<text x="318.4" y="353.91" text-anchor="end" font-size="8.4" fill="#1a1a1a">100</text>
<path d="M320.7 338.57h3.1" stroke="#000" stroke-width="1.1"/>
<text x="318.4" y="341.57" text-anchor="end" font-size="8.4" fill="#1a1a1a">105</text>
<path d="M320.7 326.24h3.1" stroke="#000" stroke-width="1.1"/>
<text x="318.4" y="329.24" text-anchor="end" font-size="8.4" fill="#1a1a1a">110</text>
<path d="M323.75 400.25v3.2" stroke="#000" stroke-width="1.1"/>
<text x="323.75" y="414" text-anchor="middle" font-size="8.4" fill="#1a1a1a">0</text>
<path d="M348.42 400.25v3.2" stroke="#000" stroke-width="1.1"/>
<text x="348.42" y="414" text-anchor="middle" font-size="8.4" fill="#1a1a1a">20</text>
<path d="M373.09 400.25v3.2" stroke="#000" stroke-width="1.1"/>
<text x="373.09" y="414" text-anchor="middle" font-size="8.4" fill="#1a1a1a">40</text>
<path d="M397.76 400.25v3.2" stroke="#000" stroke-width="1.1"/>
<text x="397.76" y="414" text-anchor="middle" font-size="8.4" fill="#1a1a1a">60</text>
<path d="M422.43 400.25v3.2" stroke="#000" stroke-width="1.1"/>
<text x="422.43" y="414" text-anchor="middle" font-size="8.4" fill="#1a1a1a">80</text>
<path d="M447.10 400.25v3.2" stroke="#000" stroke-width="1.1"/>
<text x="447.10" y="414" text-anchor="middle" font-size="8.4" fill="#1a1a1a">100</text>
<text x="387.4" y="427.4" text-anchor="middle" font-size="10.4" fill="#1a1a1a" stroke="#1a1a1a" stroke-width="0.2" textLength="57" lengthAdjust="spacingAndGlyphs">Days after injection</text>
<text transform="translate(299.4 361.2) rotate(-90)" text-anchor="middle" font-size="10.6" fill="#1a1a1a" stroke="#1a1a1a" stroke-width="0.2" textLength="59.5" lengthAdjust="spacingAndGlyphs">% mice body weight</text>
<path d="M422.43 400.25H447.10" stroke="#5fa82f" stroke-width="1.2"/>
</g>
<g id="panelD">
<text x="7.3" y="454.8" font-size="11.5" font-weight="bold" fill="#000">D</text>
<text x="59.3" y="454.6" font-size="8.3" fill="#1a1a1a" textLength="65" lengthAdjust="spacingAndGlyphs">A2-CAR CD8<tspan font-size="5" dy="-3">+</tspan><tspan dy="3"> Teff</tspan></text>
<text x="170" y="454.6" font-size="8.3" fill="#1a1a1a" textLength="72" lengthAdjust="spacingAndGlyphs">A2-CAR CD8<tspan font-size="5" dy="-3">+</tspan><tspan dy="3"> Tregs</tspan></text>
<text x="309.5" y="454.6" font-size="8.3" fill="#1a1a1a" textLength="65" lengthAdjust="spacingAndGlyphs">A2-CAR CD8<tspan font-size="5" dy="-3">+</tspan><tspan dy="3"> Teff</tspan></text>
<text x="420" y="454.6" font-size="8.3" fill="#1a1a1a" textLength="72" lengthAdjust="spacingAndGlyphs">A2-CAR CD8<tspan font-size="5" dy="-3">+</tspan><tspan dy="3"> Tregs</tspan></text>
<text transform="translate(30.3 490) rotate(-90)" text-anchor="middle" font-size="8.3" fill="#1a1a1a">lung</text>
<text transform="translate(30.3 554.5) rotate(-90)" text-anchor="middle" font-size="8.3" fill="#1a1a1a">liver</text>
<text transform="translate(280.3 490) rotate(-90)" text-anchor="middle" font-size="8.3" fill="#1a1a1a">jejunum</text>
<text transform="translate(280.3 554.5) rotate(-90)" text-anchor="middle" font-size="8.3" fill="#1a1a1a">duodenum</text>
<defs>
<filter id="tis1" x="-5%" y="-5%" width="110%" height="110%" color-interpolation-filters="sRGB">
<feTurbulence type="fractalNoise" baseFrequency="0.85" numOctaves="2" seed="3" result="t"/>
<feTurbulence type="fractalNoise" baseFrequency="0.11" numOctaves="2" seed="43" result="t2"/>
<feColorMatrix in="t" values="0 0 0 0 0.2  0 0 0 0 0.03  0 0 0 0 0.35  0 0 0 1.6 -0.8" result="d"/>
<feColorMatrix in="t" values="0 0 0 0 1  0 0 0 0 0.8  0 0 0 0 0.95  0 2.2 0 0 -1.3" result="l"/>
<feColorMatrix in="t2" values="0 0 0 0 0.95  0 0 0 0 0.75  0 0 0 0 0.95  0 0 0 2.0 -0.98" result="m"/>
<feColorMatrix in="t2" values="0 0 0 0 0.25  0 0 0 0 0.05  0 0 0 0 0.4  2.0 0 0 0 -1.08" result="m2"/>
<feComposite in="d" in2="SourceAlpha" operator="in" result="dd"/>
<feComposite in="l" in2="SourceAlpha" operator="in" result="ll"/>
<feComposite in="m" in2="SourceAlpha" operator="in" result="mm"/>
<feComposite in="m2" in2="SourceAlpha" operator="in" result="mm2"/>
<feMerge><feMergeNode in="SourceGraphic"/><feMergeNode in="mm"/><feMergeNode in="mm2"/><feMergeNode in="dd"/><feMergeNode in="ll"/></feMerge></filter>
<filter id="tis2" x="-5%" y="-5%" width="110%" height="110%" color-interpolation-filters="sRGB">
<feTurbulence type="fractalNoise" baseFrequency="0.85" numOctaves="2" seed="8" result="t"/>
<feTurbulence type="fractalNoise" baseFrequency="0.11" numOctaves="2" seed="48" result="t2"/>
<feColorMatrix in="t" values="0 0 0 0 0.2  0 0 0 0 0.03  0 0 0 0 0.35  0 0 0 1.6 -0.8" result="d"/>
<feColorMatrix in="t" values="0 0 0 0 1  0 0 0 0 0.8  0 0 0 0 0.95  0 2.2 0 0 -1.3" result="l"/>
<feColorMatrix in="t2" values="0 0 0 0 0.95  0 0 0 0 0.75  0 0 0 0 0.95  0 0 0 1.6 -0.8" result="m"/>
<feColorMatrix in="t2" values="0 0 0 0 0.25  0 0 0 0 0.05  0 0 0 0 0.4  1.6 0 0 0 -0.9" result="m2"/>
<feComposite in="d" in2="SourceAlpha" operator="in" result="dd"/>
<feComposite in="l" in2="SourceAlpha" operator="in" result="ll"/>
<feComposite in="m" in2="SourceAlpha" operator="in" result="mm"/>
<feComposite in="m2" in2="SourceAlpha" operator="in" result="mm2"/>
<feMerge><feMergeNode in="SourceGraphic"/><feMergeNode in="mm"/><feMergeNode in="mm2"/><feMergeNode in="dd"/><feMergeNode in="ll"/></feMerge></filter>
<filter id="tis3" x="-5%" y="-5%" width="110%" height="110%" color-interpolation-filters="sRGB">
<feTurbulence type="fractalNoise" baseFrequency="0.85" numOctaves="2" seed="13" result="t"/>
<feTurbulence type="fractalNoise" baseFrequency="0.11" numOctaves="2" seed="53" result="t2"/>
<feColorMatrix in="t" values="0 0 0 0 0.2  0 0 0 0 0.03  0 0 0 0 0.35  0 0 0 1.4 -0.72" result="d"/>
<feColorMatrix in="t" values="0 0 0 0 1  0 0 0 0 0.8  0 0 0 0 0.95  0 2.2 0 0 -1.3" result="l"/>
<feColorMatrix in="t2" values="0 0 0 0 0.95  0 0 0 0 0.75  0 0 0 0 0.95  0 0 0 1.1 -0.58" result="m"/>
<feColorMatrix in="t2" values="0 0 0 0 0.25  0 0 0 0 0.05  0 0 0 0 0.4  1.1 0 0 0 -0.6799999999999999" result="m2"/>
<feComposite in="d" in2="SourceAlpha" operator="in" result="dd"/>
<feComposite in="l" in2="SourceAlpha" operator="in" result="ll"/>
<feComposite in="m" in2="SourceAlpha" operator="in" result="mm"/>
<feComposite in="m2" in2="SourceAlpha" operator="in" result="mm2"/>
<feMerge><feMergeNode in="SourceGraphic"/><feMergeNode in="mm"/><feMergeNode in="mm2"/><feMergeNode in="dd"/><feMergeNode in="ll"/></feMerge></filter>
<filter id="tis4" x="-5%" y="-5%" width="110%" height="110%" color-interpolation-filters="sRGB">
<feTurbulence type="fractalNoise" baseFrequency="0.85" numOctaves="2" seed="21" result="t"/>
<feTurbulence type="fractalNoise" baseFrequency="0.11" numOctaves="2" seed="61" result="t2"/>
<feColorMatrix in="t" values="0 0 0 0 0.2  0 0 0 0 0.03  0 0 0 0 0.35  0 0 0 1.4 -0.72" result="d"/>
<feColorMatrix in="t" values="0 0 0 0 1  0 0 0 0 0.8  0 0 0 0 0.95  0 2.2 0 0 -1.3" result="l"/>
<feColorMatrix in="t2" values="0 0 0 0 0.95  0 0 0 0 0.75  0 0 0 0 0.95  0 0 0 0.7 -0.4" result="m"/>
<feColorMatrix in="t2" values="0 0 0 0 0.25  0 0 0 0 0.05  0 0 0 0 0.4  0.7 0 0 0 -0.5" result="m2"/>
<feComposite in="d" in2="SourceAlpha" operator="in" result="dd"/>
<feComposite in="l" in2="SourceAlpha" operator="in" result="ll"/>
<feComposite in="m" in2="SourceAlpha" operator="in" result="mm"/>
<feComposite in="m2" in2="SourceAlpha" operator="in" result="mm2"/>
<feMerge><feMergeNode in="SourceGraphic"/><feMergeNode in="mm"/><feMergeNode in="mm2"/><feMergeNode in="dd"/><feMergeNode in="ll"/></feMerge></filter>
<filter id="tis5" x="-5%" y="-5%" width="110%" height="110%" color-interpolation-filters="sRGB">
<feTurbulence type="fractalNoise" baseFrequency="0.85" numOctaves="2" seed="5" result="t"/>
<feTurbulence type="fractalNoise" baseFrequency="0.11" numOctaves="2" seed="45" result="t2"/>
<feColorMatrix in="t" values="0 0 0 0 0.2  0 0 0 0 0.03  0 0 0 0 0.35  0 0 0 1.6 -0.82" result="d"/>
<feColorMatrix in="t" values="0 0 0 0 1  0 0 0 0 0.8  0 0 0 0 0.95  0 2.2 0 0 -1.3" result="l"/>
<feColorMatrix in="t2" values="0 0 0 0 0.95  0 0 0 0 0.75  0 0 0 0 0.95  0 0 0 1.4 -0.72" result="m"/>
<feColorMatrix in="t2" values="0 0 0 0 0.25  0 0 0 0 0.05  0 0 0 0 0.4  1.4 0 0 0 -0.82" result="m2"/>
<feComposite in="d" in2="SourceAlpha" operator="in" result="dd"/>
<feComposite in="l" in2="SourceAlpha" operator="in" result="ll"/>
<feComposite in="m" in2="SourceAlpha" operator="in" result="mm"/>
<feComposite in="m2" in2="SourceAlpha" operator="in" result="mm2"/>
<feMerge><feMergeNode in="SourceGraphic"/><feMergeNode in="mm"/><feMergeNode in="mm2"/><feMergeNode in="dd"/><feMergeNode in="ll"/></feMerge></filter>
<filter id="tis6" x="-5%" y="-5%" width="110%" height="110%" color-interpolation-filters="sRGB">
<feTurbulence type="fractalNoise" baseFrequency="0.85" numOctaves="2" seed="9" result="t"/>
<feTurbulence type="fractalNoise" baseFrequency="0.11" numOctaves="2" seed="49" result="t2"/>
<feColorMatrix in="t" values="0 0 0 0 0.2  0 0 0 0 0.03  0 0 0 0 0.35  0 0 0 2.0 -0.95" result="d"/>
<feColorMatrix in="t" values="0 0 0 0 1  0 0 0 0 0.8  0 0 0 0 0.95  0 2.2 0 0 -1.3" result="l"/>
<feColorMatrix in="t2" values="0 0 0 0 0.95  0 0 0 0 0.75  0 0 0 0 0.95  0 0 0 1.2 -0.62" result="m"/>
<feColorMatrix in="t2" values="0 0 0 0 0.25  0 0 0 0 0.05  0 0 0 0 0.4  1.2 0 0 0 -0.72" result="m2"/>
<feComposite in="d" in2="SourceAlpha" operator="in" result="dd"/>
<feComposite in="l" in2="SourceAlpha" operator="in" result="ll"/>
<feComposite in="m" in2="SourceAlpha" operator="in" result="mm"/>
<feComposite in="m2" in2="SourceAlpha" operator="in" result="mm2"/>
<feMerge><feMergeNode in="SourceGraphic"/><feMergeNode in="mm"/><feMergeNode in="mm2"/><feMergeNode in="dd"/><feMergeNode in="ll"/></feMerge></filter>
<filter id="tis7" x="-5%" y="-5%" width="110%" height="110%" color-interpolation-filters="sRGB">
<feTurbulence type="fractalNoise" baseFrequency="0.85" numOctaves="2" seed="15" result="t"/>
<feTurbulence type="fractalNoise" baseFrequency="0.11" numOctaves="2" seed="55" result="t2"/>
<feColorMatrix in="t" values="0 0 0 0 0.2  0 0 0 0 0.03  0 0 0 0 0.35  0 0 0 1.6 -0.82" result="d"/>
<feColorMatrix in="t" values="0 0 0 0 1  0 0 0 0 0.8  0 0 0 0 0.95  0 2.2 0 0 -1.3" result="l"/>
<feColorMatrix in="t2" values="0 0 0 0 0.95  0 0 0 0 0.75  0 0 0 0 0.95  0 0 0 1.5 -0.76" result="m"/>
<feColorMatrix in="t2" values="0 0 0 0 0.25  0 0 0 0 0.05  0 0 0 0 0.4  1.5 0 0 0 -0.86" result="m2"/>
<feComposite in="d" in2="SourceAlpha" operator="in" result="dd"/>
<feComposite in="l" in2="SourceAlpha" operator="in" result="ll"/>
<feComposite in="m" in2="SourceAlpha" operator="in" result="mm"/>
<feComposite in="m2" in2="SourceAlpha" operator="in" result="mm2"/>
<feMerge><feMergeNode in="SourceGraphic"/><feMergeNode in="mm"/><feMergeNode in="mm2"/><feMergeNode in="dd"/><feMergeNode in="ll"/></feMerge></filter>
<filter id="tis8" x="-5%" y="-5%" width="110%" height="110%" color-interpolation-filters="sRGB">
<feTurbulence type="fractalNoise" baseFrequency="0.85" numOctaves="2" seed="23" result="t"/>
<feTurbulence type="fractalNoise" baseFrequency="0.11" numOctaves="2" seed="63" result="t2"/>
<feColorMatrix in="t" values="0 0 0 0 0.2  0 0 0 0 0.03  0 0 0 0 0.35  0 0 0 2.0 -0.95" result="d"/>
<feColorMatrix in="t" values="0 0 0 0 1  0 0 0 0 0.8  0 0 0 0 0.95  0 2.2 0 0 -1.3" result="l"/>
<feColorMatrix in="t2" values="0 0 0 0 0.95  0 0 0 0 0.75  0 0 0 0 0.95  0 0 0 1.2 -0.62" result="m"/>
<feColorMatrix in="t2" values="0 0 0 0 0.25  0 0 0 0 0.05  0 0 0 0 0.4  1.2 0 0 0 -0.72" result="m2"/>
<feComposite in="d" in2="SourceAlpha" operator="in" result="dd"/>
<feComposite in="l" in2="SourceAlpha" operator="in" result="ll"/>
<feComposite in="m" in2="SourceAlpha" operator="in" result="mm"/>
<feComposite in="m2" in2="SourceAlpha" operator="in" result="mm2"/>
<feMerge><feMergeNode in="SourceGraphic"/><feMergeNode in="mm"/><feMergeNode in="mm2"/><feMergeNode in="dd"/><feMergeNode in="ll"/></feMerge></filter>
<filter id="lace" x="0" y="0" width="100%" height="100%" color-interpolation-filters="sRGB"><feTurbulence type="fractalNoise" baseFrequency="0.31" numOctaves="2" seed="5"/><feColorMatrix values="0 0 0 0 0.965  0 0 0 0 0.9  0 0 0 0 0.945  0 0 0 7 -2.75"/></filter>
<filter id="holes" x="0" y="0" width="100%" height="100%" color-interpolation-filters="sRGB"><feTurbulence type="fractalNoise" baseFrequency="0.3" numOctaves="2" seed="9"/><feColorMatrix values="0 0 0 0 0.96  0 0 0 0 0.93  0 0 0 0 0.97  0 0 0 12 -7.3"/></filter>
<filter id="blur1"><feGaussianBlur stdDeviation="1.2"/></filter>
<filter id="blur2"><feGaussianBlur stdDeviation="2.5"/></filter>
<filter id="blur05"><feGaussianBlur stdDeviation="0.5"/></filter>
</defs>
<clipPath id="cp1"><rect x="0" y="0" width="114" height="64"/></clipPath>
<g transform="translate(35 458.5)" clip-path="url(#cp1)">
<g filter="url(#tis1)">
<rect width="114" height="64" fill="#ab74bb"/>
<path d="M-5 18C15 16 30 22 45 30C60 40 75 52 95 50C105 48 112 42 120 44V62C100 64 80 62 60 54C40 46 25 42 -5 46Z" fill="#9059aa" filter="url(#blur2)"/>
<path d="M36 18C60 6 92 10 112 24V46C92 36 60 36 40 30Z" fill="#9862b0" filter="url(#blur2)"/>
</g>
<mask id="mL1"><rect width="114" height="64" fill="#fff"/><path d="M-4 15L40 11L78 12L98 25L118 30V57L80 58L40 54L20 47L-4 47Z" fill="#000" filter="url(#blur2)"/></mask>
<g mask="url(#mL1)"><rect width="114" height="64" filter="url(#holes)"/></g>
<g filter="url(#tis2)">
<path d="M26 24C46 20 70 14 102 24C110 28 110 42 102 48C86 56 60 54 44 46C36 42 28 34 26 24Z" fill="#9a64b2" opacity="0.9" filter="url(#blur1)"/>
<path d="M18 28C30 34 44 40 52 50" stroke="#c060b4" stroke-width="1.2" fill="none" opacity="0.7"/>
</g>
<path d="M60.500 21.500C70 19.500 86 25 95.500 32.500C98.500 35.300 95 36.600 89 35.600C78 34 66 29 60 24.800C58.500 23.500 59 22 60.500 21.500Z" fill="#f4eff6" stroke="#b868b4" stroke-width="1.500"/>
<path d="M48 38C54 34.800 67 37.500 75 42.500C78.500 45 77 48.500 71.500 49.800C62 51.500 52 47.500 48 43C46.600 41.200 46.800 39 48 38Z" fill="#f4eff6" stroke="#b868b4" stroke-width="1.500"/>
<path d="M52 41L58 40L60 43L66 42L70 46" stroke="#c8a0d0" stroke-width="0.8" fill="none"/>
<ellipse cx="20.5" cy="51.8" rx="4" ry="3.2" fill="#eadcee" stroke="#bf62b4" stroke-width="1.4"/>
<ellipse cx="31" cy="24" rx="3.6" ry="1.9" fill="#ecdcef" transform="rotate(-30 31 24)"/>
<ellipse cx="43.5" cy="26" rx="1.4" ry="3.4" fill="#ecdcef" transform="rotate(15 43.5 26)"/>
<ellipse cx="69" cy="24" rx="1.4" ry="3" fill="#e6d2ea" transform="rotate(25 69 24)"/>
<ellipse cx="25" cy="5.5" rx="5.4" ry="3.2" fill="#f5f0f7"/>
<ellipse cx="54" cy="6" rx="3.2" ry="3" fill="#f5f0f7"/>
<ellipse cx="6" cy="30" rx="2.6" ry="2" fill="#f5f0f7"/>
<ellipse cx="3" cy="12" rx="2" ry="2" fill="#f5f0f7"/>
<ellipse cx="9" cy="22" rx="2.2" ry="1.8" fill="#f5f0f7"/>
<ellipse cx="88" cy="8" rx="3.2" ry="2.2" fill="#f5f0f7"/>
<ellipse cx="101" cy="6" rx="3.6" ry="2.8" fill="#f5f0f7"/>
<ellipse cx="109" cy="15" rx="3.4" ry="3.2" fill="#f5f0f7"/>
<ellipse cx="107" cy="28" rx="2.6" ry="2" fill="#f5f0f7"/>
<ellipse cx="8" cy="58" rx="3.2" ry="2.6" fill="#f5f0f7"/>
<ellipse cx="40" cy="58" rx="2.8" ry="2.2" fill="#f5f0f7"/>
<ellipse cx="64" cy="60.5" rx="3.4" ry="2.2" fill="#f5f0f7"/>
<ellipse cx="78" cy="59.5" rx="2.2" ry="2" fill="#f5f0f7"/>
<ellipse cx="100" cy="58" rx="3.2" ry="2.6" fill="#f5f0f7"/>
<ellipse cx="110" cy="52" rx="2.6" ry="2" fill="#f5f0f7"/>
<ellipse cx="14" cy="17" rx="2.2" ry="1.6" fill="#f5f0f7"/>
<ellipse cx="70" cy="8" rx="2.2" ry="1.6" fill="#f5f0f7"/>
<ellipse cx="36" cy="10" rx="2.2" ry="2" fill="#f5f0f7"/>
<ellipse cx="17" cy="9" rx="2" ry="1.5" fill="#f5f0f7"/>
<ellipse cx="45" cy="3" rx="2" ry="1.5" fill="#f5f0f7"/>
<ellipse cx="80" cy="3" rx="2.4" ry="1.4" fill="#f5f0f7"/>
<ellipse cx="30" cy="56" rx="2" ry="1.5" fill="#f5f0f7"/>
<ellipse cx="90" cy="61" rx="2" ry="1.5" fill="#f5f0f7"/>
<path d="M8.7 17.2L16.0 25.9" stroke="#0a0a0a" stroke-width="1.4"/>
<path d="M17.6 27.8L13.3 26.1L16.7 23.3Z" fill="#0a0a0a"/>
<path d="M106.8 50.7L96.5 46.2" stroke="#0a0a0a" stroke-width="1.4"/>
<path d="M94.2 45.2L98.8 44.8L97.0 48.8Z" fill="#0a0a0a"/>
<text x="1.5" y="59" font-size="7" font-weight="bold" fill="#111" textLength="19.6" lengthAdjust="spacingAndGlyphs">100µm</text>
<path d="M3.6 62.1h10.5" stroke="#333" stroke-width="1"/>
</g>
<clipPath id="cp2"><rect x="0" y="0" width="114" height="64"/></clipPath>
<g transform="translate(149.8 458.5)" clip-path="url(#cp2)">
<rect width="114" height="64" fill="#c6449e"/>
<rect width="114" height="64" filter="url(#lace)"/>
<ellipse cx="31" cy="13.5" rx="11" ry="3" fill="#f7eef5" transform="rotate(5 31 13.5)"/>
<ellipse cx="36" cy="51" rx="8" ry="4.5" fill="#f7eef5" transform="rotate(-20 36 51)"/>
<ellipse cx="98" cy="43" rx="6" ry="5" fill="#f7eef5" transform="rotate(0 98 43)"/>
<ellipse cx="75" cy="10" rx="8" ry="3" fill="#f7eef5" transform="rotate(0 75 10)"/>
<ellipse cx="12" cy="40" rx="4.5" ry="2.5" fill="#f7eef5" transform="rotate(20 12 40)"/>
<ellipse cx="88" cy="22" rx="4.5" ry="2.5" fill="#f7eef5" transform="rotate(30 88 22)"/>
<ellipse cx="104" cy="12" rx="3.5" ry="2.5" fill="#f7eef5" transform="rotate(0 104 12)"/>
<ellipse cx="54.5" cy="25" rx="6.4" ry="7" fill="#f8f0f6" stroke="#ad2a8c" stroke-width="2.1"/>
<path d="M46 34.5C52 36 60 35.500 66 33.500" stroke="#c23a98" stroke-width="2.8" fill="none" stroke-linecap="round"/>
<path d="M11 22L19 28" stroke="#c23a98" stroke-width="2.8" stroke-linecap="round"/>
<path d="M77 26L85 20L82 28" stroke="#c23a98" stroke-width="2.4" fill="none" stroke-linecap="round"/>
<text x="1.5" y="59" font-size="7" font-weight="bold" fill="#111" textLength="19.6" lengthAdjust="spacingAndGlyphs">100µm</text>
<path d="M3.6 62.1h10.5" stroke="#333" stroke-width="1"/>
</g>
<clipPath id="cp3"><rect x="0" y="0" width="114" height="64"/></clipPath>
<g transform="translate(35 523)" clip-path="url(#cp3)">
<g filter="url(#tis3)">
<rect width="114" height="64" fill="#bd4a9c"/>
<path d="M24 16C30 21 38 21 42 25C42 36 42 50 42 66H20C24 50 26 34 24 16Z" fill="#c85c6c" opacity="0.9" filter="url(#blur2)"/>
<path d="M33 24C35 32 34 48 31 66" stroke="#d47a58" stroke-width="4.5" fill="none" opacity="0.6" filter="url(#blur1)"/>
<path d="M56 0C61 10 59 20 57 32C55 44 59 54 63 66H81C79 54 77 40 77 30C77 18 75 8 73 0Z" fill="#8f52a6" opacity="0.85" filter="url(#blur2)"/>
<path d="M61 4C64 14 62 26 61 38" stroke="#c86a64" stroke-width="1.8" fill="none" opacity="0.5" filter="url(#blur05)"/>
</g>
<path d="M27.500 15.500C30 13 35 14.500 36 18C36.700 21.500 34 26 31.500 26C29.500 24.500 27 19.500 27.500 15.500Z" fill="#f7f2f7"/>
<path d="M69.500 9.500V29" stroke="#f5eff6" stroke-width="1.800" stroke-linecap="round"/>
<path d="M72.500 37V49.500" stroke="#f5eff6" stroke-width="2.400" stroke-linecap="round"/>
<path d="M69.500 51V60" stroke="#f5eff6" stroke-width="1.900" stroke-linecap="round"/>
<path d="M64 24L66 36M65 42L66.500 50M62 34l1 5" stroke="#eadcef" stroke-width="0.900" stroke-linecap="round"/>
<circle cx="93" cy="48" r="6.200" fill="#f7f2f7" stroke="#c86080" stroke-width="0.900"/>
<ellipse cx="99" cy="62.500" rx="2.200" ry="1" fill="#f4eef5"/>
<path d="M13.2 5.0L20.9 11.9" stroke="#0a0a0a" stroke-width="1.4"/>
<path d="M22.8 13.6L18.3 12.5L21.3 9.3Z" fill="#0a0a0a"/>
<path d="M43.2 39.6L53.9 38.5" stroke="#0a0a0a" stroke-width="1.4"/>
<path d="M56.4 38.2L52.6 40.8L52.2 36.4Z" fill="#0a0a0a"/>
<text x="1.5" y="58.5" font-size="7" font-weight="bold" fill="#111" textLength="19.6" lengthAdjust="spacingAndGlyphs">100µm</text>
<path d="M3.6 61.6h10.5" stroke="#333" stroke-width="1"/>
</g>
<clipPath id="cp4"><rect x="0" y="0" width="114" height="64"/></clipPath>
<g transform="translate(149.8 523)" clip-path="url(#cp4)">
<g filter="url(#tis4)">
<rect width="114" height="64" fill="#a6329a"/>
</g>
<ellipse cx="59.5" cy="4.3" rx="1.4" ry="1.8" fill="#e9d6e8" filter="url(#blur05)"/>
<ellipse cx="107" cy="8.5" rx="2" ry="1.7" fill="#e9d6e8" filter="url(#blur05)"/>
<ellipse cx="109" cy="23.5" rx="2.3" ry="1.7" fill="#e9d6e8" filter="url(#blur05)"/>
<ellipse cx="56.8" cy="32" rx="2" ry="2.5" fill="#e9d6e8" filter="url(#blur05)"/>
<ellipse cx="79" cy="60.5" rx="2.6" ry="2.3" fill="#e9d6e8" filter="url(#blur05)"/>
<ellipse cx="24" cy="25.5" rx="0.8" ry="1" fill="#e9d6e8" filter="url(#blur05)"/>
<ellipse cx="5.5" cy="37.5" rx="1.3" ry="1.6" fill="#e9d6e8" filter="url(#blur05)"/>
<ellipse cx="102" cy="27.5" rx="0.9" ry="0.6" fill="#e9d6e8" filter="url(#blur05)"/>
<text x="1.5" y="58.5" font-size="7" font-weight="bold" fill="#111" textLength="19.6" lengthAdjust="spacingAndGlyphs">100µm</text>
<path d="M3.6 61.6h10.5" stroke="#333" stroke-width="1"/>
</g>
<clipPath id="cp5"><rect x="0" y="0" width="114" height="64"/></clipPath>
<g transform="translate(285 458.5)" clip-path="url(#cp5)">
<rect width="114" height="64" fill="#ebe7ee"/>
<g filter="url(#tis5)">
<path d="M30 0H114V5.500C105 7 95 4.500 85 5C72 5.500 60 5.500 50 3.500C42 2 36 1 30 0Z" fill="#a274b8"/>
<circle cx="50" cy="-207" r="262.4" fill="none" stroke="#dc8cba" stroke-width="1.400"/>
<circle cx="50" cy="-207" r="237" fill="none" stroke="#d6c4e0" stroke-width="24"/>
<circle cx="50" cy="-207" r="255" fill="none" stroke="#6f4f9a" stroke-width="14"/>
<path d="M1.1 13.5L1.4 38.2" stroke="#9b6cb4" stroke-width="7.6" stroke-linecap="round"/>
<path d="M1.1 15.5L1.4 34.2" stroke="#bb92cc" stroke-width="2" stroke-linecap="round" opacity="0.8"/>
<path d="M10.5 14.4L10.5 39.9" stroke="#a274b9" stroke-width="7.6" stroke-linecap="round"/>
<path d="M10.5 16.4L10.5 35.9" stroke="#bb92cc" stroke-width="2" stroke-linecap="round" opacity="0.8"/>
<path d="M18.8 14.1L19.5 41.1" stroke="#9566b0" stroke-width="7.6" stroke-linecap="round"/>
<path d="M18.8 16.1L19.5 37.1" stroke="#bb92cc" stroke-width="2" stroke-linecap="round" opacity="0.8"/>
<path d="M29.5 16.8L28.6 42.1" stroke="#9b6cb4" stroke-width="7.6" stroke-linecap="round"/>
<path d="M29.5 18.8L28.6 38.1" stroke="#bb92cc" stroke-width="2" stroke-linecap="round" opacity="0.8"/>
<path d="M38.2 16.7L37.8 42.7" stroke="#a274b9" stroke-width="7.6" stroke-linecap="round"/>
<path d="M38.2 18.7L37.8 38.7" stroke="#bb92cc" stroke-width="2" stroke-linecap="round" opacity="0.8"/>
<path d="M46.6 16.3L46.9 43.0" stroke="#9566b0" stroke-width="7.6" stroke-linecap="round"/>
<path d="M46.6 18.3L46.9 39.0" stroke="#bb92cc" stroke-width="2" stroke-linecap="round" opacity="0.8"/>
<path d="M54.7 16.9L56.1 42.9" stroke="#9b6cb4" stroke-width="7.6" stroke-linecap="round"/>
<path d="M54.7 18.9L56.1 38.9" stroke="#bb92cc" stroke-width="2" stroke-linecap="round" opacity="0.8"/>
<path d="M63.8 17.6L65.3 42.5" stroke="#a274b9" stroke-width="7.6" stroke-linecap="round"/>
<path d="M63.8 19.6L65.3 38.5" stroke="#bb92cc" stroke-width="2" stroke-linecap="round" opacity="0.8"/>
<path d="M74.2 16.7L74.4 41.8" stroke="#9566b0" stroke-width="7.6" stroke-linecap="round"/>
<path d="M74.2 18.7L74.4 37.8" stroke="#bb92cc" stroke-width="2" stroke-linecap="round" opacity="0.8"/>
<path d="M82.9 14.8L83.5 40.7" stroke="#9b6cb4" stroke-width="7.6" stroke-linecap="round"/>
<path d="M82.9 16.8L83.5 36.7" stroke="#bb92cc" stroke-width="2" stroke-linecap="round" opacity="0.8"/>
<path d="M90.8 14.6L92.6 39.4" stroke="#a274b9" stroke-width="7.6" stroke-linecap="round"/>
<path d="M90.8 16.6L92.6 35.4" stroke="#bb92cc" stroke-width="2" stroke-linecap="round" opacity="0.8"/>
<path d="M100.9 14.1L101.6 37.6" stroke="#9566b0" stroke-width="7.6" stroke-linecap="round"/>
<path d="M100.9 16.1L101.6 33.6" stroke="#bb92cc" stroke-width="2" stroke-linecap="round" opacity="0.8"/>
<path d="M110.0 11.7L110.5 35.6" stroke="#9b6cb4" stroke-width="7.6" stroke-linecap="round"/>
<path d="M110.0 13.7L110.5 31.6" stroke="#bb92cc" stroke-width="2" stroke-linecap="round" opacity="0.8"/>
<path d="M14 32L24 29M40 28L43 40M62 20L63 36M84 22L87 38" stroke="#cf74b4" stroke-width="1" fill="none" opacity="0.8"/>
</g>
<path d="M-2.3 52.2A264.4 264.4 0 0 0 117.6 48.6" stroke="#e6d49c" stroke-width="0.600" fill="none"/>
<text x="1.5" y="59" font-size="7" font-weight="bold" fill="#111" textLength="19.6" lengthAdjust="spacingAndGlyphs">100µm</text>
<path d="M3.6 62.1h10.5" stroke="#333" stroke-width="1"/>
</g>
<clipPath id="cp6"><rect x="0" y="0" width="113" height="64"/></clipPath>
<g transform="translate(399.3 458.5)" clip-path="url(#cp6)">
<rect width="114" height="64" fill="#efe7ef"/>
<ellipse cx="79" cy="3.500" rx="6" ry="3" fill="#d2ac88"/>
<g filter="url(#tis6)">
<circle cx="45" cy="-536" r="594.5" fill="none" stroke="#d648a6" stroke-width="4"/>
<circle cx="45" cy="-536" r="566.5" fill="none" stroke="#dcaed8" stroke-width="30"/>
<circle cx="45" cy="-536" r="586.0" fill="none" stroke="#702f8a" stroke-width="13"/>
<path d="M0.8 6.5L4.0 43.1" stroke="#8f2a92" stroke-width="7.400" stroke-linecap="round"/>
<path d="M0.8 8.5L4.0 39.1" stroke="#b53ca4" stroke-width="2" stroke-linecap="round" opacity="0.7"/>
<path d="M10.1 6.0L12.3 43.6" stroke="#98309a" stroke-width="7.400" stroke-linecap="round"/>
<path d="M10.1 8.0L12.3 39.6" stroke="#b53ca4" stroke-width="2" stroke-linecap="round" opacity="0.7"/>
<path d="M18.6 6.5L20.6 44.0" stroke="#8a288e" stroke-width="7.400" stroke-linecap="round"/>
<path d="M18.6 8.5L20.6 40.0" stroke="#b53ca4" stroke-width="2" stroke-linecap="round" opacity="0.7"/>
<path d="M27.8 7.0L28.9 44.3" stroke="#8f2a92" stroke-width="7.400" stroke-linecap="round"/>
<path d="M27.8 9.0L28.9 40.3" stroke="#b53ca4" stroke-width="2" stroke-linecap="round" opacity="0.7"/>
<path d="M36.6 9.0L37.2 44.4" stroke="#98309a" stroke-width="7.400" stroke-linecap="round"/>
<path d="M36.6 11.0L37.2 40.4" stroke="#b53ca4" stroke-width="2" stroke-linecap="round" opacity="0.7"/>
<path d="M44.5 12.0L45.5 44.5" stroke="#8a288e" stroke-width="7.400" stroke-linecap="round"/>
<path d="M44.5 14.0L45.5 40.5" stroke="#b53ca4" stroke-width="2" stroke-linecap="round" opacity="0.7"/>
<path d="M53.2 14.5L53.8 44.4" stroke="#8f2a92" stroke-width="7.400" stroke-linecap="round"/>
<path d="M53.2 16.5L53.8 40.4" stroke="#b53ca4" stroke-width="2" stroke-linecap="round" opacity="0.7"/>
<path d="M63.4 14.0L62.1 44.2" stroke="#98309a" stroke-width="7.400" stroke-linecap="round"/>
<path d="M63.4 16.0L62.1 40.2" stroke="#b53ca4" stroke-width="2" stroke-linecap="round" opacity="0.7"/>
<path d="M71.2 13.5L70.4 43.9" stroke="#8a288e" stroke-width="7.400" stroke-linecap="round"/>
<path d="M71.2 15.5L70.4 39.9" stroke="#b53ca4" stroke-width="2" stroke-linecap="round" opacity="0.7"/>
<path d="M80.0 11.5L78.7 43.5" stroke="#8f2a92" stroke-width="7.400" stroke-linecap="round"/>
<path d="M80.0 13.5L78.7 39.5" stroke="#b53ca4" stroke-width="2" stroke-linecap="round" opacity="0.7"/>
<path d="M90.0 11.0L87.0 43.0" stroke="#98309a" stroke-width="7.400" stroke-linecap="round"/>
<path d="M90.0 13.0L87.0 39.0" stroke="#b53ca4" stroke-width="2" stroke-linecap="round" opacity="0.7"/>
<path d="M98.0 10.5L95.3 42.3" stroke="#8a288e" stroke-width="7.400" stroke-linecap="round"/>
<path d="M98.0 12.5L95.3 38.3" stroke="#b53ca4" stroke-width="2" stroke-linecap="round" opacity="0.7"/>
<path d="M107.4 12.0L103.6 41.5" stroke="#8f2a92" stroke-width="7.400" stroke-linecap="round"/>
<path d="M107.4 14.0L103.6 37.5" stroke="#b53ca4" stroke-width="2" stroke-linecap="round" opacity="0.7"/>
<path d="M115.6 13.0L111.9 40.6" stroke="#98309a" stroke-width="7.400" stroke-linecap="round"/>
<path d="M115.6 15.0L111.9 36.6" stroke="#b53ca4" stroke-width="2" stroke-linecap="round" opacity="0.7"/>
</g>
<path d="M-1.5 59.3A597.1 597.1 0 0 0 116.4 56.8" stroke="#e6c48c" stroke-width="0.700" fill="none"/>
<text x="1.5" y="59" font-size="7" font-weight="bold" fill="#111" textLength="19.6" lengthAdjust="spacingAndGlyphs">100µm</text>
<path d="M3.6 62.1h10.5" stroke="#333" stroke-width="1"/>
</g>
<clipPath id="cp7"><rect x="0" y="0" width="114" height="64"/></clipPath>
<g transform="translate(285 523)" clip-path="url(#cp7)">
<rect width="114" height="64" fill="#eee9f0"/>
<circle cx="57" cy="-17" r="75.7" fill="#f0e8f1"/>
<g filter="url(#tis7)">
<circle cx="57" cy="-17" r="75.3" fill="none" stroke="#e38fc2" stroke-width="1.600"/>
<circle cx="57" cy="-17" r="53.7" fill="none" stroke="#e9e0ee" stroke-width="22"/>
<circle cx="57" cy="-17" r="68.2" fill="none" stroke="#6c4696" stroke-width="13"/>
<path d="M33.4 -8.9L-7.4 3.9" stroke="#9159ac" stroke-width="6.0" stroke-linecap="round"/>
<path d="M33.4 -8.9L-7.4 3.9" stroke="#bd88ca" stroke-width="1.7" stroke-linecap="round" opacity="0.8"/>
<path d="M31.0 -3.0L-1.9 16.4" stroke="#a062b4" stroke-width="6.0" stroke-linecap="round"/>
<path d="M31.0 -3.0L-1.9 16.4" stroke="#bd88ca" stroke-width="1.7" stroke-linecap="round" opacity="0.8"/>
<path d="M35.7 0.8L4.8 26.1" stroke="#8c52a8" stroke-width="6.0" stroke-linecap="round"/>
<path d="M35.7 0.8L4.8 26.1" stroke="#bd88ca" stroke-width="1.7" stroke-linecap="round" opacity="0.8"/>
<path d="M42.4 1.2L14.8 36.0" stroke="#9159ac" stroke-width="6.0" stroke-linecap="round"/>
<path d="M42.4 1.2L14.8 36.0" stroke="#bd88ca" stroke-width="1.7" stroke-linecap="round" opacity="0.8"/>
<path d="M42.4 10.1L24.3 42.3" stroke="#a062b4" stroke-width="6.0" stroke-linecap="round"/>
<path d="M42.4 10.1L24.3 42.3" stroke="#bd88ca" stroke-width="1.7" stroke-linecap="round" opacity="0.8"/>
<path d="M48.8 7.7L35.2 47.1" stroke="#8c52a8" stroke-width="6.0" stroke-linecap="round"/>
<path d="M48.8 7.7L35.2 47.1" stroke="#bd88ca" stroke-width="1.7" stroke-linecap="round" opacity="0.8"/>
<path d="M53.5 6.0L47.0 50.0" stroke="#9159ac" stroke-width="6.0" stroke-linecap="round"/>
<path d="M53.5 6.0L47.0 50.0" stroke="#bd88ca" stroke-width="1.7" stroke-linecap="round" opacity="0.8"/>
<path d="M57.3 15.0L56.4 50.7" stroke="#a062b4" stroke-width="6.0" stroke-linecap="round"/>
<path d="M57.3 15.0L56.4 50.7" stroke="#bd88ca" stroke-width="1.7" stroke-linecap="round" opacity="0.8"/>
<path d="M61.0 10.6L69.3 49.6" stroke="#8c52a8" stroke-width="6.0" stroke-linecap="round"/>
<path d="M61.0 10.6L69.3 49.6" stroke="#bd88ca" stroke-width="1.7" stroke-linecap="round" opacity="0.8"/>
<path d="M64.4 4.6L78.0 47.4" stroke="#9159ac" stroke-width="6.0" stroke-linecap="round"/>
<path d="M64.4 4.6L78.0 47.4" stroke="#bd88ca" stroke-width="1.7" stroke-linecap="round" opacity="0.8"/>
<path d="M71.7 9.6L90.8 41.7" stroke="#a062b4" stroke-width="6.0" stroke-linecap="round"/>
<path d="M71.7 9.6L90.8 41.7" stroke="#bd88ca" stroke-width="1.7" stroke-linecap="round" opacity="0.8"/>
<path d="M73.4 3.3L99.6 35.6" stroke="#8c52a8" stroke-width="6.0" stroke-linecap="round"/>
<path d="M73.4 3.3L99.6 35.6" stroke="#bd88ca" stroke-width="1.7" stroke-linecap="round" opacity="0.8"/>
<path d="M76.0 -0.3L109.1 26.2" stroke="#9159ac" stroke-width="6.0" stroke-linecap="round"/>
<path d="M76.0 -0.3L109.1 26.2" stroke="#bd88ca" stroke-width="1.7" stroke-linecap="round" opacity="0.8"/>
<path d="M84.2 -1.3L116.0 16.2" stroke="#a062b4" stroke-width="6.0" stroke-linecap="round"/>
<path d="M84.2 -1.3L116.0 16.2" stroke="#bd88ca" stroke-width="1.7" stroke-linecap="round" opacity="0.8"/>
<path d="M84.0 -8.2L120.4 6.7" stroke="#8c52a8" stroke-width="6.0" stroke-linecap="round"/>
<path d="M84.0 -8.2L120.4 6.7" stroke="#bd88ca" stroke-width="1.7" stroke-linecap="round" opacity="0.8"/>
<path d="M52 30L54 50M61 34L63 52" stroke="#cf6cb6" stroke-width="3.4" stroke-linecap="round" opacity="0.85"/>
<ellipse cx="47" cy="7" rx="4" ry="6.500" fill="#a858ae"/>
</g>
<path d="M91.8 53.6L80.3 48.4" stroke="#0a0a0a" stroke-width="1.4"/>
<path d="M78.0 47.4L82.6 47.0L80.8 51.1Z" fill="#0a0a0a"/>
<text x="1.5" y="58.5" font-size="7" font-weight="bold" fill="#111" textLength="19.6" lengthAdjust="spacingAndGlyphs">100µm</text>
<path d="M3.6 61.6h10.5" stroke="#333" stroke-width="1"/>
</g>
<clipPath id="cp8"><rect x="0" y="0" width="113" height="64"/></clipPath>
<g transform="translate(399.3 523)" clip-path="url(#cp8)">
<rect width="114" height="64" fill="#f1e9f1"/>
<circle cx="62" cy="-37.5" r="98.3" fill="#f2e8f1"/>
<g filter="url(#tis8)">
<circle cx="62" cy="-37.5" r="97.7" fill="none" stroke="#dc62b0" stroke-width="2"/>
<circle cx="62" cy="-37.5" r="68.3" fill="none" stroke="#f0e2ee" stroke-width="34"/>
<circle cx="62" cy="-37.5" r="89.3" fill="none" stroke="#7a3590" stroke-width="14"/>
<path d="M12.9 -3.0L4.0 29.1" stroke="#a03c9c" stroke-width="8.8" stroke-linecap="butt"/>
<path d="M12.9 -3.0L4.0 24.1" stroke="#c055b0" stroke-width="2.4" stroke-linecap="round" opacity="0.8"/>
<path d="M19.8 -3.0L13.7 36.4" stroke="#a844a2" stroke-width="8.8" stroke-linecap="butt"/>
<path d="M19.8 -3.0L13.7 31.4" stroke="#c055b0" stroke-width="2.4" stroke-linecap="round" opacity="0.8"/>
<path d="M30.8 -3.0L25.3 42.8" stroke="#993698" stroke-width="8.8" stroke-linecap="butt"/>
<path d="M30.8 -3.0L25.3 37.8" stroke="#c055b0" stroke-width="2.4" stroke-linecap="round" opacity="0.8"/>
<path d="M39.2 -3.0L35.8 46.8" stroke="#a03c9c" stroke-width="8.8" stroke-linecap="butt"/>
<path d="M39.2 -3.0L35.8 41.8" stroke="#c055b0" stroke-width="2.4" stroke-linecap="round" opacity="0.8"/>
<path d="M48.8 -3.0L46.4 49.4" stroke="#a844a2" stroke-width="8.8" stroke-linecap="butt"/>
<path d="M48.8 -3.0L46.4 44.4" stroke="#c055b0" stroke-width="2.4" stroke-linecap="round" opacity="0.8"/>
<path d="M57.2 -3.0L57.1 50.7" stroke="#993698" stroke-width="8.8" stroke-linecap="butt"/>
<path d="M57.2 -3.0L57.1 45.7" stroke="#c055b0" stroke-width="2.4" stroke-linecap="round" opacity="0.8"/>
<path d="M66.7 -3.0L67.6 50.6" stroke="#a03c9c" stroke-width="8.8" stroke-linecap="butt"/>
<path d="M66.7 -3.0L67.6 45.6" stroke="#c055b0" stroke-width="2.4" stroke-linecap="round" opacity="0.8"/>
<path d="M77.1 -3.0L78.7 49.2" stroke="#a844a2" stroke-width="8.8" stroke-linecap="butt"/>
<path d="M77.1 -3.0L78.7 44.2" stroke="#c055b0" stroke-width="2.4" stroke-linecap="round" opacity="0.8"/>
<path d="M85.8 -3.0L89.6 46.4" stroke="#993698" stroke-width="8.8" stroke-linecap="butt"/>
<path d="M85.8 -3.0L89.6 41.4" stroke="#c055b0" stroke-width="2.4" stroke-linecap="round" opacity="0.8"/>
<path d="M94.1 -3.0L99.7 42.3" stroke="#a03c9c" stroke-width="8.8" stroke-linecap="butt"/>
<path d="M94.1 -3.0L99.7 37.3" stroke="#c055b0" stroke-width="2.4" stroke-linecap="round" opacity="0.8"/>
<path d="M102.5 -3.0L109.9 36.7" stroke="#a844a2" stroke-width="8.8" stroke-linecap="butt"/>
<path d="M102.5 -3.0L109.9 31.7" stroke="#c055b0" stroke-width="2.4" stroke-linecap="round" opacity="0.8"/>
</g>
<path d="M0 6L16 12L19 21L6 30L0 28Z" fill="#f3ebf3"/><path d="M0 24L14 30L4 37L0 36Z" fill="#f3ebf3"/>
<text x="1.5" y="58.5" font-size="7" font-weight="bold" fill="#111" textLength="19.6" lengthAdjust="spacingAndGlyphs">100µm</text>
<path d="M3.6 61.6h10.5" stroke="#333" stroke-width="1"/>
</g>
<rect x="34.900" y="458" width="228.700" height="128.400" fill="none" stroke="#000" stroke-width="1.100"/>
<path d="M149.300 458V586.400M34.900 522.300H263.600" stroke="#000" stroke-width="1.100"/>
<rect x="284.600" y="458" width="228.050" height="128.400" fill="none" stroke="#000" stroke-width="1.100"/>
<path d="M398.750 458V586.400M284.600 522.300H512.650" stroke="#000" stroke-width="1.100"/>
</g>
<path d="M0 0H520V594H0Z M1.05 0.9V592.85H518.85V0.9Z" fill="#000" fill-rule="evenodd"/>
</svg></body></html>
